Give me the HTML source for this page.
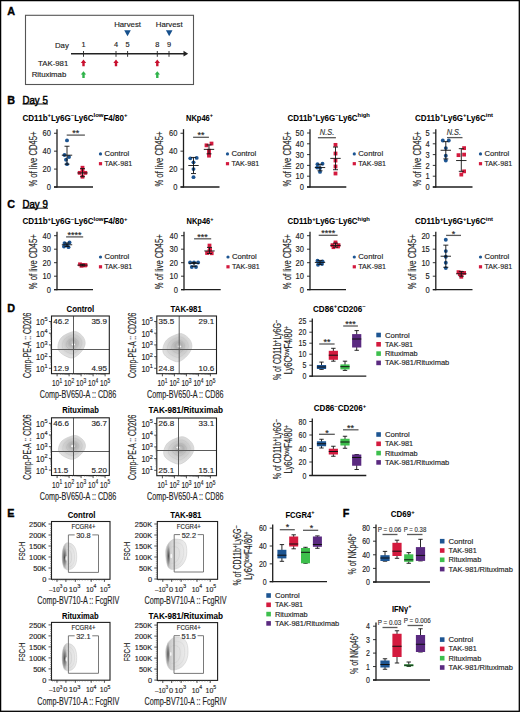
<!DOCTYPE html>
<html><head><meta charset="utf-8"><style>
html,body{margin:0;padding:0;background:#fff;}
svg{display:block;font-family:"Liberation Sans", sans-serif;}
</style></head><body>
<svg width="520" height="712" viewBox="0 0 520 712" font-family='"Liberation Sans", sans-serif' fill="#1e1e1e">
<defs><radialGradient id="g1" cx="0.52" cy="0.45" r="0.5" fx="0.55" fy="0.42"><stop offset="0" stop-color="#c4c4c4" stop-opacity="1"/><stop offset="0.22" stop-color="#b0b0b0" stop-opacity="1"/><stop offset="0.45" stop-color="#c6c6c6" stop-opacity="1"/><stop offset="0.8" stop-color="#d8d8d8" stop-opacity="1"/><stop offset="1" stop-color="#e0e0e0" stop-opacity="1"/></radialGradient><radialGradient id="g2" cx="0.52" cy="0.45" r="0.5" fx="0.55" fy="0.42"><stop offset="0" stop-color="#c4c4c4" stop-opacity="1"/><stop offset="0.22" stop-color="#b0b0b0" stop-opacity="1"/><stop offset="0.45" stop-color="#c6c6c6" stop-opacity="1"/><stop offset="0.8" stop-color="#d8d8d8" stop-opacity="1"/><stop offset="1" stop-color="#e0e0e0" stop-opacity="1"/></radialGradient><radialGradient id="g3" cx="0.52" cy="0.45" r="0.5" fx="0.55" fy="0.42"><stop offset="0" stop-color="#c4c4c4" stop-opacity="1"/><stop offset="0.22" stop-color="#b0b0b0" stop-opacity="1"/><stop offset="0.45" stop-color="#c6c6c6" stop-opacity="1"/><stop offset="0.8" stop-color="#d8d8d8" stop-opacity="1"/><stop offset="1" stop-color="#e0e0e0" stop-opacity="1"/></radialGradient><radialGradient id="g4" cx="0.52" cy="0.45" r="0.5" fx="0.55" fy="0.42"><stop offset="0" stop-color="#c4c4c4" stop-opacity="1"/><stop offset="0.22" stop-color="#b0b0b0" stop-opacity="1"/><stop offset="0.45" stop-color="#c6c6c6" stop-opacity="1"/><stop offset="0.8" stop-color="#d8d8d8" stop-opacity="1"/><stop offset="1" stop-color="#e0e0e0" stop-opacity="1"/></radialGradient><linearGradient id="lg1" x1="0" y1="0" x2="1" y2="0"><stop offset="0" stop-color="#9a9a9a" stop-opacity="1"/><stop offset="0.35" stop-color="#dadada" stop-opacity="1"/><stop offset="1" stop-color="#eeeeee" stop-opacity="1"/></linearGradient><radialGradient id="g5" cx="0.5" cy="0.5" r="0.5"><stop offset="0" stop-color="#4c4c4c" stop-opacity="1"/><stop offset="0.55" stop-color="#8a8a8a" stop-opacity="0.8"/><stop offset="1" stop-color="#b8b8b8" stop-opacity="0"/></radialGradient><linearGradient id="lg2" x1="0" y1="0" x2="1" y2="0"><stop offset="0" stop-color="#b8b8b8" stop-opacity="1"/><stop offset="0.35" stop-color="#dadada" stop-opacity="1"/><stop offset="1" stop-color="#eeeeee" stop-opacity="1"/></linearGradient><radialGradient id="g6" cx="0.5" cy="0.5" r="0.5"><stop offset="0" stop-color="#4c4c4c" stop-opacity="1"/><stop offset="0.55" stop-color="#8a8a8a" stop-opacity="0.8"/><stop offset="1" stop-color="#b8b8b8" stop-opacity="0"/></radialGradient><linearGradient id="lg3" x1="0" y1="0" x2="1" y2="0"><stop offset="0" stop-color="#9a9a9a" stop-opacity="1"/><stop offset="0.35" stop-color="#dadada" stop-opacity="1"/><stop offset="1" stop-color="#eeeeee" stop-opacity="1"/></linearGradient><radialGradient id="g7" cx="0.5" cy="0.5" r="0.5"><stop offset="0" stop-color="#4c4c4c" stop-opacity="1"/><stop offset="0.55" stop-color="#8a8a8a" stop-opacity="0.8"/><stop offset="1" stop-color="#b8b8b8" stop-opacity="0"/></radialGradient><linearGradient id="lg4" x1="0" y1="0" x2="1" y2="0"><stop offset="0" stop-color="#b8b8b8" stop-opacity="1"/><stop offset="0.35" stop-color="#dadada" stop-opacity="1"/><stop offset="1" stop-color="#eeeeee" stop-opacity="1"/></linearGradient><radialGradient id="g8" cx="0.5" cy="0.5" r="0.5"><stop offset="0" stop-color="#4c4c4c" stop-opacity="1"/><stop offset="0.55" stop-color="#8a8a8a" stop-opacity="0.8"/><stop offset="1" stop-color="#b8b8b8" stop-opacity="0"/></radialGradient></defs>
<rect width="520" height="712" fill="#fff"/>
<rect x="0.60" y="0.60" width="518.70" height="710.70" fill="none" stroke="#000" stroke-width="1.3"/>
<text x="7.20" y="14.79" font-size="10.8" font-weight="bold" fill="#000" stroke="#000" stroke-width="0.35">A</text>
<rect x="25.50" y="15.30" width="168.00" height="69.20" fill="none" stroke="#555" stroke-width="1.1"/>
<text x="127.60" y="26.81" font-size="7.8" text-anchor="middle" stroke="#1e1e1e" stroke-width="0.15">Harvest</text>
<text x="169.20" y="26.81" font-size="7.8" text-anchor="middle" stroke="#1e1e1e" stroke-width="0.15">Harvest</text>
<path d="M124.20 30.2 L130.80 30.2 L127.50 36.2 Z" fill="#16508c"/>
<path d="M165.90 30.2 L172.50 30.2 L169.20 36.2 Z" fill="#16508c"/>
<text x="68.80" y="47.81" font-size="7.8" text-anchor="end" stroke="#1e1e1e" stroke-width="0.15">Day</text>
<text x="83.50" y="47.36" font-size="7.4" text-anchor="middle" stroke="#1e1e1e" stroke-width="0.15">1</text>
<line x1="83.50" y1="51.00" x2="83.50" y2="56.80" stroke="#222" stroke-width="0.9"/>
<text x="116.00" y="47.36" font-size="7.4" text-anchor="middle" stroke="#1e1e1e" stroke-width="0.15">4</text>
<line x1="116.00" y1="51.00" x2="116.00" y2="56.80" stroke="#222" stroke-width="0.9"/>
<text x="127.60" y="47.36" font-size="7.4" text-anchor="middle" stroke="#1e1e1e" stroke-width="0.15">5</text>
<line x1="127.60" y1="51.00" x2="127.60" y2="56.80" stroke="#222" stroke-width="0.9"/>
<text x="157.30" y="47.36" font-size="7.4" text-anchor="middle" stroke="#1e1e1e" stroke-width="0.15">8</text>
<line x1="157.30" y1="51.00" x2="157.30" y2="56.80" stroke="#222" stroke-width="0.9"/>
<text x="169.00" y="47.36" font-size="7.4" text-anchor="middle" stroke="#1e1e1e" stroke-width="0.15">9</text>
<line x1="169.00" y1="51.00" x2="169.00" y2="56.80" stroke="#222" stroke-width="0.9"/>
<line x1="71.00" y1="53.70" x2="185.00" y2="53.70" stroke="#222" stroke-width="1.5"/>
<path d="M183.5 50.8 L188.2 53.7 L183.5 56.6 Z" fill="#222"/>
<text x="68.30" y="65.61" font-size="7.8" text-anchor="end" stroke="#1e1e1e" stroke-width="0.15">TAK-981</text>
<text x="66.30" y="77.41" font-size="7.8" text-anchor="end" stroke="#1e1e1e" stroke-width="0.15">Rituximab</text>
<path d="M83.50 59.60 L86.20 62.90 L84.70 62.90 L84.70 66.20 L82.30 66.20 L82.30 62.90 L80.80 62.90 Z" fill="#c8102e"/>
<path d="M116.00 59.60 L118.70 62.90 L117.20 62.90 L117.20 66.20 L114.80 66.20 L114.80 62.90 L113.30 62.90 Z" fill="#c8102e"/>
<path d="M157.30 59.60 L160.00 62.90 L158.50 62.90 L158.50 66.20 L156.10 66.20 L156.10 62.90 L154.60 62.90 Z" fill="#c8102e"/>
<path d="M83.50 71.30 L86.20 74.60 L84.70 74.60 L84.70 77.90 L82.30 77.90 L82.30 74.60 L80.80 74.60 Z" fill="#2fb34a"/>
<path d="M157.30 71.30 L160.00 74.60 L158.50 74.60 L158.50 77.90 L156.10 77.90 L156.10 74.60 L154.60 74.60 Z" fill="#2fb34a"/>
<text x="7.20" y="103.69" font-size="10.8" font-weight="bold" fill="#000" stroke="#000" stroke-width="0.35">B</text>
<text x="22.50" y="103.77" font-size="10.2" fill="#000" textLength="25.3" lengthAdjust="spacingAndGlyphs" stroke="#000" stroke-width="0.45">Day 5</text>
<line x1="22.50" y1="104.00" x2="48.00" y2="104.00" stroke="#000" stroke-width="0.9"/>
<text x="7.20" y="207.89" font-size="10.8" font-weight="bold" fill="#000" stroke="#000" stroke-width="0.35">C</text>
<text x="22.50" y="207.97" font-size="10.2" fill="#000" textLength="25.3" lengthAdjust="spacingAndGlyphs" stroke="#000" stroke-width="0.45">Day 9</text>
<line x1="22.50" y1="208.20" x2="48.00" y2="208.20" stroke="#000" stroke-width="0.9"/>
<text x="7.20" y="311.59" font-size="10.8" font-weight="bold" fill="#000" stroke="#000" stroke-width="0.35">D</text>
<text x="7.20" y="517.09" font-size="10.8" font-weight="bold" fill="#000" stroke="#000" stroke-width="0.35">E</text>
<text x="342.80" y="517.09" font-size="10.8" font-weight="bold" fill="#000" stroke="#000" stroke-width="0.35">F</text>
<line x1="57.00" y1="129.20" x2="57.00" y2="187.60" stroke="#1e1e1e" stroke-width="1.3"/>
<line x1="54.00" y1="187.00" x2="93.00" y2="187.00" stroke="#1e1e1e" stroke-width="1.3"/>
<line x1="54.00" y1="187.00" x2="57.00" y2="187.00" stroke="#1e1e1e" stroke-width="0.9"/>
<text x="51.00" y="190.13" font-size="8.7" text-anchor="end" textLength="4.2" lengthAdjust="spacingAndGlyphs" stroke="#1e1e1e" stroke-width="0.15">0</text>
<line x1="54.00" y1="169.08" x2="57.00" y2="169.08" stroke="#1e1e1e" stroke-width="0.9"/>
<text x="51.00" y="172.22" font-size="8.7" text-anchor="end" textLength="8.4" lengthAdjust="spacingAndGlyphs" stroke="#1e1e1e" stroke-width="0.15">20</text>
<line x1="54.00" y1="151.17" x2="57.00" y2="151.17" stroke="#1e1e1e" stroke-width="0.9"/>
<text x="51.00" y="154.30" font-size="8.7" text-anchor="end" textLength="8.4" lengthAdjust="spacingAndGlyphs" stroke="#1e1e1e" stroke-width="0.15">40</text>
<line x1="54.00" y1="133.25" x2="57.00" y2="133.25" stroke="#1e1e1e" stroke-width="0.9"/>
<text x="51.00" y="136.38" font-size="8.7" text-anchor="end" textLength="8.4" lengthAdjust="spacingAndGlyphs" stroke="#1e1e1e" stroke-width="0.15">60</text>
<text x="33.80" y="162.77" font-size="10.2" text-anchor="middle" textLength="55" lengthAdjust="spacingAndGlyphs" transform="rotate(-90 33.80 159.10)" stroke="#1e1e1e" stroke-width="0.15">% of live CD45+</text>
<text x="75.00" y="120.99" font-size="8.3" text-anchor="middle" font-weight="bold" fill="#000" textLength="105" lengthAdjust="spacingAndGlyphs" stroke="#000" stroke-width="0.05">CD11b<tspan dy="-3.65" font-size="6.14">+</tspan><tspan dy="3.65">Ly6G</tspan><tspan dy="-3.65" font-size="6.14">–</tspan><tspan dy="3.65">Ly6C</tspan><tspan dy="-3.65" font-size="6.14">low</tspan><tspan dy="3.65">F4/80</tspan><tspan dy="-3.65" font-size="6.14">+</tspan></text>
<circle cx="67.00" cy="140.42" r="1.95" fill="#1d5592"/>
<circle cx="64.50" cy="155.02" r="1.95" fill="#1d5592"/>
<circle cx="69.00" cy="156.99" r="1.95" fill="#1d5592"/>
<circle cx="66.00" cy="159.68" r="1.95" fill="#1d5592"/>
<circle cx="67.00" cy="164.16" r="1.95" fill="#1d5592"/>
<line x1="67.00" y1="146.24" x2="67.00" y2="164.16" stroke="#111" stroke-width="0.9"/>
<line x1="61.80" y1="155.20" x2="72.20" y2="155.20" stroke="#111" stroke-width="0.9"/>
<line x1="64.50" y1="146.24" x2="69.50" y2="146.24" stroke="#111" stroke-width="0.9"/>
<line x1="64.50" y1="164.16" x2="69.50" y2="164.16" stroke="#111" stroke-width="0.9"/>
<rect x="80.60" y="165.84" width="3.80" height="3.80" fill="#d31a3e"/>
<rect x="77.80" y="170.95" width="3.80" height="3.80" fill="#d31a3e"/>
<rect x="83.40" y="170.95" width="3.80" height="3.80" fill="#d31a3e"/>
<rect x="80.60" y="168.97" width="3.80" height="3.80" fill="#d31a3e"/>
<rect x="80.60" y="174.80" width="3.80" height="3.80" fill="#d31a3e"/>
<line x1="82.50" y1="168.64" x2="82.50" y2="176.70" stroke="#111" stroke-width="0.9"/>
<line x1="77.30" y1="172.94" x2="87.70" y2="172.94" stroke="#111" stroke-width="0.9"/>
<line x1="80.00" y1="168.64" x2="85.00" y2="168.64" stroke="#111" stroke-width="0.9"/>
<line x1="80.00" y1="176.70" x2="85.00" y2="176.70" stroke="#111" stroke-width="0.9"/>
<line x1="66.70" y1="135.10" x2="84.90" y2="135.10" stroke="#5a5a5a" stroke-width="1.3"/>
<text x="75.80" y="136.02" font-size="9.0" text-anchor="middle" fill="#222" stroke="#222" stroke-width="0.15">**</text>
<circle cx="100.50" cy="153.90" r="1.6" fill="#1d5592"/>
<rect x="98.90" y="162.10" width="3.20" height="3.20" fill="#d31a3e"/>
<text x="104.50" y="156.28" font-size="8.0" textLength="24.8" lengthAdjust="spacingAndGlyphs" stroke="#1e1e1e" stroke-width="0.15">Control</text>
<text x="104.50" y="166.08" font-size="8.0" textLength="27.6" lengthAdjust="spacingAndGlyphs" stroke="#1e1e1e" stroke-width="0.15">TAK-981</text>
<line x1="183.50" y1="129.20" x2="183.50" y2="187.60" stroke="#1e1e1e" stroke-width="1.3"/>
<line x1="180.50" y1="187.00" x2="219.50" y2="187.00" stroke="#1e1e1e" stroke-width="1.3"/>
<line x1="180.50" y1="187.00" x2="183.50" y2="187.00" stroke="#1e1e1e" stroke-width="0.9"/>
<text x="177.50" y="190.13" font-size="8.7" text-anchor="end" textLength="4.2" lengthAdjust="spacingAndGlyphs" stroke="#1e1e1e" stroke-width="0.15">0</text>
<line x1="180.50" y1="169.08" x2="183.50" y2="169.08" stroke="#1e1e1e" stroke-width="0.9"/>
<text x="177.50" y="172.22" font-size="8.7" text-anchor="end" textLength="8.4" lengthAdjust="spacingAndGlyphs" stroke="#1e1e1e" stroke-width="0.15">20</text>
<line x1="180.50" y1="151.17" x2="183.50" y2="151.17" stroke="#1e1e1e" stroke-width="0.9"/>
<text x="177.50" y="154.30" font-size="8.7" text-anchor="end" textLength="8.4" lengthAdjust="spacingAndGlyphs" stroke="#1e1e1e" stroke-width="0.15">40</text>
<line x1="180.50" y1="133.25" x2="183.50" y2="133.25" stroke="#1e1e1e" stroke-width="0.9"/>
<text x="177.50" y="136.38" font-size="8.7" text-anchor="end" textLength="8.4" lengthAdjust="spacingAndGlyphs" stroke="#1e1e1e" stroke-width="0.15">60</text>
<text x="159.50" y="162.77" font-size="10.2" text-anchor="middle" textLength="55" lengthAdjust="spacingAndGlyphs" transform="rotate(-90 159.50 159.10)" stroke="#1e1e1e" stroke-width="0.15">% of live CD45+</text>
<text x="199.50" y="120.99" font-size="8.3" text-anchor="middle" font-weight="bold" fill="#000" textLength="27" lengthAdjust="spacingAndGlyphs" stroke="#000" stroke-width="0.05">NKp46<tspan dy="-3.65" font-size="6.14">+</tspan></text>
<circle cx="190.30" cy="158.33" r="1.95" fill="#1d5592"/>
<circle cx="196.70" cy="157.89" r="1.95" fill="#1d5592"/>
<circle cx="193.50" cy="162.36" r="1.95" fill="#1d5592"/>
<circle cx="193.50" cy="169.08" r="1.95" fill="#1d5592"/>
<circle cx="193.50" cy="177.15" r="1.95" fill="#1d5592"/>
<line x1="193.50" y1="157.44" x2="193.50" y2="173.56" stroke="#111" stroke-width="0.9"/>
<line x1="188.30" y1="165.50" x2="198.70" y2="165.50" stroke="#111" stroke-width="0.9"/>
<line x1="191.00" y1="157.44" x2="196.00" y2="157.44" stroke="#111" stroke-width="0.9"/>
<line x1="191.00" y1="173.56" x2="196.00" y2="173.56" stroke="#111" stroke-width="0.9"/>
<rect x="209.60" y="141.65" width="3.80" height="3.80" fill="#d31a3e"/>
<rect x="204.60" y="143.44" width="3.80" height="3.80" fill="#d31a3e"/>
<rect x="207.10" y="148.82" width="3.80" height="3.80" fill="#d31a3e"/>
<rect x="207.10" y="151.95" width="3.80" height="3.80" fill="#d31a3e"/>
<rect x="207.10" y="153.75" width="3.80" height="3.80" fill="#d31a3e"/>
<line x1="209.00" y1="144.90" x2="209.00" y2="153.85" stroke="#111" stroke-width="0.9"/>
<line x1="203.80" y1="149.38" x2="214.20" y2="149.38" stroke="#111" stroke-width="0.9"/>
<line x1="206.50" y1="144.90" x2="211.50" y2="144.90" stroke="#111" stroke-width="0.9"/>
<line x1="206.50" y1="153.85" x2="211.50" y2="153.85" stroke="#111" stroke-width="0.9"/>
<line x1="193.10" y1="137.30" x2="208.90" y2="137.30" stroke="#5a5a5a" stroke-width="1.3"/>
<text x="201.00" y="138.12" font-size="9.0" text-anchor="middle" fill="#222" stroke="#222" stroke-width="0.15">**</text>
<circle cx="227.50" cy="153.90" r="1.6" fill="#1d5592"/>
<rect x="225.90" y="162.10" width="3.20" height="3.20" fill="#d31a3e"/>
<text x="231.50" y="156.28" font-size="8.0" textLength="24.8" lengthAdjust="spacingAndGlyphs" stroke="#1e1e1e" stroke-width="0.15">Control</text>
<text x="231.50" y="166.08" font-size="8.0" textLength="27.6" lengthAdjust="spacingAndGlyphs" stroke="#1e1e1e" stroke-width="0.15">TAK-981</text>
<line x1="310.00" y1="129.20" x2="310.00" y2="187.60" stroke="#1e1e1e" stroke-width="1.3"/>
<line x1="307.00" y1="187.00" x2="346.30" y2="187.00" stroke="#1e1e1e" stroke-width="1.3"/>
<line x1="307.00" y1="187.00" x2="310.00" y2="187.00" stroke="#1e1e1e" stroke-width="0.9"/>
<text x="304.00" y="190.13" font-size="8.7" text-anchor="end" textLength="4.2" lengthAdjust="spacingAndGlyphs" stroke="#1e1e1e" stroke-width="0.15">0</text>
<line x1="307.00" y1="176.20" x2="310.00" y2="176.20" stroke="#1e1e1e" stroke-width="0.9"/>
<text x="304.00" y="179.33" font-size="8.7" text-anchor="end" textLength="8.4" lengthAdjust="spacingAndGlyphs" stroke="#1e1e1e" stroke-width="0.15">10</text>
<line x1="307.00" y1="165.40" x2="310.00" y2="165.40" stroke="#1e1e1e" stroke-width="0.9"/>
<text x="304.00" y="168.53" font-size="8.7" text-anchor="end" textLength="8.4" lengthAdjust="spacingAndGlyphs" stroke="#1e1e1e" stroke-width="0.15">20</text>
<line x1="307.00" y1="154.60" x2="310.00" y2="154.60" stroke="#1e1e1e" stroke-width="0.9"/>
<text x="304.00" y="157.73" font-size="8.7" text-anchor="end" textLength="8.4" lengthAdjust="spacingAndGlyphs" stroke="#1e1e1e" stroke-width="0.15">30</text>
<line x1="307.00" y1="143.80" x2="310.00" y2="143.80" stroke="#1e1e1e" stroke-width="0.9"/>
<text x="304.00" y="146.93" font-size="8.7" text-anchor="end" textLength="8.4" lengthAdjust="spacingAndGlyphs" stroke="#1e1e1e" stroke-width="0.15">40</text>
<line x1="307.00" y1="133.00" x2="310.00" y2="133.00" stroke="#1e1e1e" stroke-width="0.9"/>
<text x="304.00" y="136.13" font-size="8.7" text-anchor="end" textLength="8.4" lengthAdjust="spacingAndGlyphs" stroke="#1e1e1e" stroke-width="0.15">50</text>
<text x="287.00" y="162.77" font-size="10.2" text-anchor="middle" textLength="55" lengthAdjust="spacingAndGlyphs" transform="rotate(-90 287.00 159.10)" stroke="#1e1e1e" stroke-width="0.15">% of live CD45+</text>
<text x="328.70" y="120.99" font-size="8.3" text-anchor="middle" font-weight="bold" fill="#000" textLength="82.5" lengthAdjust="spacingAndGlyphs" stroke="#000" stroke-width="0.05">CD11b<tspan dy="-3.65" font-size="6.14">+</tspan><tspan dy="3.65">Ly6G</tspan><tspan dy="-3.65" font-size="6.14">–</tspan><tspan dy="3.65">Ly6C</tspan><tspan dy="-3.65" font-size="6.14">high</tspan></text>
<circle cx="317.50" cy="164.32" r="1.95" fill="#1d5592"/>
<circle cx="322.50" cy="163.78" r="1.95" fill="#1d5592"/>
<circle cx="320.00" cy="168.10" r="1.95" fill="#1d5592"/>
<circle cx="317.20" cy="167.56" r="1.95" fill="#1d5592"/>
<circle cx="320.00" cy="171.88" r="1.95" fill="#1d5592"/>
<line x1="320.00" y1="164.32" x2="320.00" y2="170.80" stroke="#111" stroke-width="0.9"/>
<line x1="314.80" y1="167.56" x2="325.20" y2="167.56" stroke="#111" stroke-width="0.9"/>
<line x1="317.50" y1="164.32" x2="322.50" y2="164.32" stroke="#111" stroke-width="0.9"/>
<line x1="317.50" y1="170.80" x2="322.50" y2="170.80" stroke="#111" stroke-width="0.9"/>
<rect x="333.60" y="142.98" width="3.80" height="3.80" fill="#d31a3e"/>
<rect x="333.60" y="151.62" width="3.80" height="3.80" fill="#d31a3e"/>
<rect x="333.60" y="158.64" width="3.80" height="3.80" fill="#d31a3e"/>
<rect x="333.60" y="164.58" width="3.80" height="3.80" fill="#d31a3e"/>
<rect x="333.60" y="171.60" width="3.80" height="3.80" fill="#d31a3e"/>
<line x1="335.50" y1="147.04" x2="335.50" y2="169.72" stroke="#111" stroke-width="0.9"/>
<line x1="330.30" y1="158.38" x2="340.70" y2="158.38" stroke="#111" stroke-width="0.9"/>
<line x1="333.00" y1="147.04" x2="338.00" y2="147.04" stroke="#111" stroke-width="0.9"/>
<line x1="333.00" y1="169.72" x2="338.00" y2="169.72" stroke="#111" stroke-width="0.9"/>
<line x1="317.90" y1="137.70" x2="335.90" y2="137.70" stroke="#5a5a5a" stroke-width="1.3"/>
<text x="327.00" y="134.92" font-size="8.4" text-anchor="middle" font-style="italic" fill="#333" textLength="14.4" lengthAdjust="spacingAndGlyphs" stroke="#333" stroke-width="0.15">N.S.</text>
<circle cx="354.30" cy="153.90" r="1.6" fill="#1d5592"/>
<rect x="352.70" y="162.10" width="3.20" height="3.20" fill="#d31a3e"/>
<text x="358.30" y="156.28" font-size="8.0" textLength="24.8" lengthAdjust="spacingAndGlyphs" stroke="#1e1e1e" stroke-width="0.15">Control</text>
<text x="358.30" y="166.08" font-size="8.0" textLength="27.6" lengthAdjust="spacingAndGlyphs" stroke="#1e1e1e" stroke-width="0.15">TAK-981</text>
<line x1="435.80" y1="129.20" x2="435.80" y2="187.60" stroke="#1e1e1e" stroke-width="1.3"/>
<line x1="432.80" y1="187.00" x2="472.50" y2="187.00" stroke="#1e1e1e" stroke-width="1.3"/>
<line x1="432.80" y1="187.00" x2="435.80" y2="187.00" stroke="#1e1e1e" stroke-width="0.9"/>
<text x="429.80" y="190.13" font-size="8.7" text-anchor="end" textLength="4.2" lengthAdjust="spacingAndGlyphs" stroke="#1e1e1e" stroke-width="0.15">0</text>
<line x1="432.80" y1="176.20" x2="435.80" y2="176.20" stroke="#1e1e1e" stroke-width="0.9"/>
<text x="429.80" y="179.33" font-size="8.7" text-anchor="end" textLength="4.2" lengthAdjust="spacingAndGlyphs" stroke="#1e1e1e" stroke-width="0.15">1</text>
<line x1="432.80" y1="165.40" x2="435.80" y2="165.40" stroke="#1e1e1e" stroke-width="0.9"/>
<text x="429.80" y="168.53" font-size="8.7" text-anchor="end" textLength="4.2" lengthAdjust="spacingAndGlyphs" stroke="#1e1e1e" stroke-width="0.15">2</text>
<line x1="432.80" y1="154.60" x2="435.80" y2="154.60" stroke="#1e1e1e" stroke-width="0.9"/>
<text x="429.80" y="157.73" font-size="8.7" text-anchor="end" textLength="4.2" lengthAdjust="spacingAndGlyphs" stroke="#1e1e1e" stroke-width="0.15">3</text>
<line x1="432.80" y1="143.80" x2="435.80" y2="143.80" stroke="#1e1e1e" stroke-width="0.9"/>
<text x="429.80" y="146.93" font-size="8.7" text-anchor="end" textLength="4.2" lengthAdjust="spacingAndGlyphs" stroke="#1e1e1e" stroke-width="0.15">4</text>
<line x1="432.80" y1="133.00" x2="435.80" y2="133.00" stroke="#1e1e1e" stroke-width="0.9"/>
<text x="429.80" y="136.13" font-size="8.7" text-anchor="end" textLength="4.2" lengthAdjust="spacingAndGlyphs" stroke="#1e1e1e" stroke-width="0.15">5</text>
<text x="417.00" y="162.77" font-size="10.2" text-anchor="middle" textLength="55" lengthAdjust="spacingAndGlyphs" transform="rotate(-90 417.00 159.10)" stroke="#1e1e1e" stroke-width="0.15">% of live CD45+</text>
<text x="454.00" y="120.99" font-size="8.3" text-anchor="middle" font-weight="bold" fill="#000" textLength="78" lengthAdjust="spacingAndGlyphs" stroke="#000" stroke-width="0.05">CD11b<tspan dy="-3.65" font-size="6.14">+</tspan><tspan dy="3.65">Ly6G</tspan><tspan dy="-3.65" font-size="6.14">+</tspan><tspan dy="3.65">Ly6C</tspan><tspan dy="-3.65" font-size="6.14">int</tspan></text>
<circle cx="442.80" cy="140.56" r="1.95" fill="#1d5592"/>
<circle cx="448.80" cy="140.56" r="1.95" fill="#1d5592"/>
<circle cx="445.80" cy="148.12" r="1.95" fill="#1d5592"/>
<circle cx="445.80" cy="155.68" r="1.95" fill="#1d5592"/>
<circle cx="445.80" cy="160.54" r="1.95" fill="#1d5592"/>
<line x1="445.80" y1="141.64" x2="445.80" y2="158.92" stroke="#111" stroke-width="0.9"/>
<line x1="440.60" y1="150.28" x2="451.00" y2="150.28" stroke="#111" stroke-width="0.9"/>
<line x1="443.30" y1="141.64" x2="448.30" y2="141.64" stroke="#111" stroke-width="0.9"/>
<line x1="443.30" y1="158.92" x2="448.30" y2="158.92" stroke="#111" stroke-width="0.9"/>
<rect x="462.20" y="146.22" width="3.80" height="3.80" fill="#d31a3e"/>
<rect x="456.60" y="153.24" width="3.80" height="3.80" fill="#d31a3e"/>
<rect x="462.20" y="152.70" width="3.80" height="3.80" fill="#d31a3e"/>
<rect x="462.20" y="169.44" width="3.80" height="3.80" fill="#d31a3e"/>
<rect x="459.40" y="172.68" width="3.80" height="3.80" fill="#d31a3e"/>
<line x1="461.30" y1="148.66" x2="461.30" y2="171.34" stroke="#111" stroke-width="0.9"/>
<line x1="456.10" y1="160.54" x2="466.50" y2="160.54" stroke="#111" stroke-width="0.9"/>
<line x1="458.80" y1="148.66" x2="463.80" y2="148.66" stroke="#111" stroke-width="0.9"/>
<line x1="458.80" y1="171.34" x2="463.80" y2="171.34" stroke="#111" stroke-width="0.9"/>
<line x1="447.00" y1="137.60" x2="462.50" y2="137.60" stroke="#5a5a5a" stroke-width="1.3"/>
<text x="453.90" y="134.92" font-size="8.4" text-anchor="middle" font-style="italic" fill="#333" textLength="14.4" lengthAdjust="spacingAndGlyphs" stroke="#333" stroke-width="0.15">N.S.</text>
<circle cx="480.50" cy="153.90" r="1.6" fill="#1d5592"/>
<rect x="478.90" y="162.10" width="3.20" height="3.20" fill="#d31a3e"/>
<text x="484.50" y="156.28" font-size="8.0" textLength="24.8" lengthAdjust="spacingAndGlyphs" stroke="#1e1e1e" stroke-width="0.15">Control</text>
<text x="484.50" y="166.08" font-size="8.0" textLength="27.6" lengthAdjust="spacingAndGlyphs" stroke="#1e1e1e" stroke-width="0.15">TAK-981</text>
<line x1="57.00" y1="231.80" x2="57.00" y2="290.30" stroke="#1e1e1e" stroke-width="1.3"/>
<line x1="54.00" y1="289.70" x2="93.00" y2="289.70" stroke="#1e1e1e" stroke-width="1.3"/>
<line x1="54.00" y1="289.70" x2="57.00" y2="289.70" stroke="#1e1e1e" stroke-width="0.9"/>
<text x="51.00" y="292.83" font-size="8.7" text-anchor="end" textLength="4.2" lengthAdjust="spacingAndGlyphs" stroke="#1e1e1e" stroke-width="0.15">0</text>
<line x1="54.00" y1="276.20" x2="57.00" y2="276.20" stroke="#1e1e1e" stroke-width="0.9"/>
<text x="51.00" y="279.33" font-size="8.7" text-anchor="end" textLength="8.4" lengthAdjust="spacingAndGlyphs" stroke="#1e1e1e" stroke-width="0.15">10</text>
<line x1="54.00" y1="262.70" x2="57.00" y2="262.70" stroke="#1e1e1e" stroke-width="0.9"/>
<text x="51.00" y="265.83" font-size="8.7" text-anchor="end" textLength="8.4" lengthAdjust="spacingAndGlyphs" stroke="#1e1e1e" stroke-width="0.15">20</text>
<line x1="54.00" y1="249.20" x2="57.00" y2="249.20" stroke="#1e1e1e" stroke-width="0.9"/>
<text x="51.00" y="252.33" font-size="8.7" text-anchor="end" textLength="8.4" lengthAdjust="spacingAndGlyphs" stroke="#1e1e1e" stroke-width="0.15">30</text>
<line x1="54.00" y1="235.70" x2="57.00" y2="235.70" stroke="#1e1e1e" stroke-width="0.9"/>
<text x="51.00" y="238.83" font-size="8.7" text-anchor="end" textLength="8.4" lengthAdjust="spacingAndGlyphs" stroke="#1e1e1e" stroke-width="0.15">40</text>
<text x="33.80" y="265.42" font-size="10.2" text-anchor="middle" textLength="55" lengthAdjust="spacingAndGlyphs" transform="rotate(-90 33.80 261.75)" stroke="#1e1e1e" stroke-width="0.15">% of live CD45+</text>
<text x="75.00" y="224.19" font-size="8.3" text-anchor="middle" font-weight="bold" fill="#000" textLength="105" lengthAdjust="spacingAndGlyphs" stroke="#000" stroke-width="0.05">CD11b<tspan dy="-3.65" font-size="6.14">+</tspan><tspan dy="3.65">Ly6G</tspan><tspan dy="-3.65" font-size="6.14">–</tspan><tspan dy="3.65">Ly6C</tspan><tspan dy="-3.65" font-size="6.14">low</tspan><tspan dy="3.65">F4/80</tspan><tspan dy="-3.65" font-size="6.14">+</tspan></text>
<circle cx="64.50" cy="243.12" r="1.95" fill="#1d5592"/>
<circle cx="69.50" cy="242.45" r="1.95" fill="#1d5592"/>
<circle cx="67.00" cy="245.15" r="1.95" fill="#1d5592"/>
<circle cx="64.00" cy="246.50" r="1.95" fill="#1d5592"/>
<circle cx="68.50" cy="247.17" r="1.95" fill="#1d5592"/>
<line x1="67.00" y1="242.99" x2="67.00" y2="246.50" stroke="#111" stroke-width="0.9"/>
<line x1="61.80" y1="244.75" x2="72.20" y2="244.75" stroke="#111" stroke-width="0.9"/>
<line x1="64.50" y1="242.99" x2="69.50" y2="242.99" stroke="#111" stroke-width="0.9"/>
<line x1="64.50" y1="246.50" x2="69.50" y2="246.50" stroke="#111" stroke-width="0.9"/>
<rect x="78.10" y="262.42" width="3.80" height="3.80" fill="#d31a3e"/>
<rect x="80.60" y="263.10" width="3.80" height="3.80" fill="#d31a3e"/>
<rect x="83.10" y="263.50" width="3.80" height="3.80" fill="#d31a3e"/>
<rect x="79.60" y="263.91" width="3.80" height="3.80" fill="#d31a3e"/>
<rect x="83.60" y="263.23" width="3.80" height="3.80" fill="#d31a3e"/>
<line x1="82.50" y1="264.32" x2="82.50" y2="265.94" stroke="#111" stroke-width="0.9"/>
<line x1="77.30" y1="265.13" x2="87.70" y2="265.13" stroke="#111" stroke-width="0.9"/>
<line x1="80.00" y1="264.32" x2="85.00" y2="264.32" stroke="#111" stroke-width="0.9"/>
<line x1="80.00" y1="265.94" x2="85.00" y2="265.94" stroke="#111" stroke-width="0.9"/>
<line x1="66.10" y1="236.90" x2="83.20" y2="236.90" stroke="#5a5a5a" stroke-width="1.3"/>
<text x="74.60" y="238.12" font-size="9.0" text-anchor="middle" fill="#222" stroke="#222" stroke-width="0.15">****</text>
<circle cx="100.50" cy="257.00" r="1.6" fill="#1d5592"/>
<rect x="98.90" y="265.20" width="3.20" height="3.20" fill="#d31a3e"/>
<text x="104.50" y="259.38" font-size="8.0" textLength="24.8" lengthAdjust="spacingAndGlyphs" stroke="#1e1e1e" stroke-width="0.15">Control</text>
<text x="104.50" y="269.18" font-size="8.0" textLength="27.6" lengthAdjust="spacingAndGlyphs" stroke="#1e1e1e" stroke-width="0.15">TAK-981</text>
<line x1="184.00" y1="231.80" x2="184.00" y2="290.30" stroke="#1e1e1e" stroke-width="1.3"/>
<line x1="181.00" y1="289.70" x2="220.70" y2="289.70" stroke="#1e1e1e" stroke-width="1.3"/>
<line x1="181.00" y1="289.70" x2="184.00" y2="289.70" stroke="#1e1e1e" stroke-width="0.9"/>
<text x="178.00" y="292.83" font-size="8.7" text-anchor="end" textLength="4.2" lengthAdjust="spacingAndGlyphs" stroke="#1e1e1e" stroke-width="0.15">0</text>
<line x1="181.00" y1="276.20" x2="184.00" y2="276.20" stroke="#1e1e1e" stroke-width="0.9"/>
<text x="178.00" y="279.33" font-size="8.7" text-anchor="end" textLength="8.4" lengthAdjust="spacingAndGlyphs" stroke="#1e1e1e" stroke-width="0.15">10</text>
<line x1="181.00" y1="262.70" x2="184.00" y2="262.70" stroke="#1e1e1e" stroke-width="0.9"/>
<text x="178.00" y="265.83" font-size="8.7" text-anchor="end" textLength="8.4" lengthAdjust="spacingAndGlyphs" stroke="#1e1e1e" stroke-width="0.15">20</text>
<line x1="181.00" y1="249.20" x2="184.00" y2="249.20" stroke="#1e1e1e" stroke-width="0.9"/>
<text x="178.00" y="252.33" font-size="8.7" text-anchor="end" textLength="8.4" lengthAdjust="spacingAndGlyphs" stroke="#1e1e1e" stroke-width="0.15">30</text>
<line x1="181.00" y1="235.70" x2="184.00" y2="235.70" stroke="#1e1e1e" stroke-width="0.9"/>
<text x="178.00" y="238.83" font-size="8.7" text-anchor="end" textLength="8.4" lengthAdjust="spacingAndGlyphs" stroke="#1e1e1e" stroke-width="0.15">40</text>
<text x="159.50" y="265.42" font-size="10.2" text-anchor="middle" textLength="55" lengthAdjust="spacingAndGlyphs" transform="rotate(-90 159.50 261.75)" stroke="#1e1e1e" stroke-width="0.15">% of live CD45+</text>
<text x="200.00" y="224.19" font-size="8.3" text-anchor="middle" font-weight="bold" fill="#000" textLength="27" lengthAdjust="spacingAndGlyphs" stroke="#000" stroke-width="0.05">NKp46<tspan dy="-3.65" font-size="6.14">+</tspan></text>
<circle cx="190.10" cy="262.43" r="1.95" fill="#1d5592"/>
<circle cx="194.00" cy="262.43" r="1.95" fill="#1d5592"/>
<circle cx="198.10" cy="262.43" r="1.95" fill="#1d5592"/>
<circle cx="191.80" cy="267.02" r="1.95" fill="#1d5592"/>
<circle cx="196.00" cy="267.02" r="1.95" fill="#1d5592"/>
<line x1="194.00" y1="262.43" x2="194.00" y2="266.34" stroke="#111" stroke-width="0.9"/>
<line x1="188.80" y1="263.38" x2="199.20" y2="263.38" stroke="#111" stroke-width="0.9"/>
<line x1="191.50" y1="262.43" x2="196.50" y2="262.43" stroke="#111" stroke-width="0.9"/>
<line x1="191.50" y1="266.34" x2="196.50" y2="266.34" stroke="#111" stroke-width="0.9"/>
<rect x="207.60" y="243.65" width="3.80" height="3.80" fill="#d31a3e"/>
<rect x="205.20" y="251.08" width="3.80" height="3.80" fill="#d31a3e"/>
<rect x="209.80" y="251.35" width="3.80" height="3.80" fill="#d31a3e"/>
<rect x="207.60" y="248.92" width="3.80" height="3.80" fill="#d31a3e"/>
<rect x="208.10" y="247.97" width="3.80" height="3.80" fill="#d31a3e"/>
<line x1="209.50" y1="247.44" x2="209.50" y2="253.52" stroke="#111" stroke-width="0.9"/>
<line x1="204.30" y1="250.95" x2="214.70" y2="250.95" stroke="#111" stroke-width="0.9"/>
<line x1="207.00" y1="247.44" x2="212.00" y2="247.44" stroke="#111" stroke-width="0.9"/>
<line x1="207.00" y1="253.52" x2="212.00" y2="253.52" stroke="#111" stroke-width="0.9"/>
<line x1="194.10" y1="238.80" x2="211.20" y2="238.80" stroke="#5a5a5a" stroke-width="1.3"/>
<text x="202.60" y="240.12" font-size="9.0" text-anchor="middle" fill="#222" stroke="#222" stroke-width="0.15">***</text>
<circle cx="228.00" cy="257.00" r="1.6" fill="#1d5592"/>
<rect x="226.40" y="265.20" width="3.20" height="3.20" fill="#d31a3e"/>
<text x="232.00" y="259.38" font-size="8.0" textLength="24.8" lengthAdjust="spacingAndGlyphs" stroke="#1e1e1e" stroke-width="0.15">Control</text>
<text x="232.00" y="269.18" font-size="8.0" textLength="27.6" lengthAdjust="spacingAndGlyphs" stroke="#1e1e1e" stroke-width="0.15">TAK-981</text>
<line x1="310.00" y1="231.80" x2="310.00" y2="290.30" stroke="#1e1e1e" stroke-width="1.3"/>
<line x1="307.00" y1="289.70" x2="346.00" y2="289.70" stroke="#1e1e1e" stroke-width="1.3"/>
<line x1="307.00" y1="289.70" x2="310.00" y2="289.70" stroke="#1e1e1e" stroke-width="0.9"/>
<text x="304.00" y="292.83" font-size="8.7" text-anchor="end" textLength="4.2" lengthAdjust="spacingAndGlyphs" stroke="#1e1e1e" stroke-width="0.15">0</text>
<line x1="307.00" y1="276.20" x2="310.00" y2="276.20" stroke="#1e1e1e" stroke-width="0.9"/>
<text x="304.00" y="279.33" font-size="8.7" text-anchor="end" textLength="8.4" lengthAdjust="spacingAndGlyphs" stroke="#1e1e1e" stroke-width="0.15">10</text>
<line x1="307.00" y1="262.70" x2="310.00" y2="262.70" stroke="#1e1e1e" stroke-width="0.9"/>
<text x="304.00" y="265.83" font-size="8.7" text-anchor="end" textLength="8.4" lengthAdjust="spacingAndGlyphs" stroke="#1e1e1e" stroke-width="0.15">20</text>
<line x1="307.00" y1="249.20" x2="310.00" y2="249.20" stroke="#1e1e1e" stroke-width="0.9"/>
<text x="304.00" y="252.33" font-size="8.7" text-anchor="end" textLength="8.4" lengthAdjust="spacingAndGlyphs" stroke="#1e1e1e" stroke-width="0.15">30</text>
<line x1="307.00" y1="235.70" x2="310.00" y2="235.70" stroke="#1e1e1e" stroke-width="0.9"/>
<text x="304.00" y="238.83" font-size="8.7" text-anchor="end" textLength="8.4" lengthAdjust="spacingAndGlyphs" stroke="#1e1e1e" stroke-width="0.15">40</text>
<text x="287.00" y="265.42" font-size="10.2" text-anchor="middle" textLength="55" lengthAdjust="spacingAndGlyphs" transform="rotate(-90 287.00 261.75)" stroke="#1e1e1e" stroke-width="0.15">% of live CD45+</text>
<text x="328.70" y="224.19" font-size="8.3" text-anchor="middle" font-weight="bold" fill="#000" textLength="82.5" lengthAdjust="spacingAndGlyphs" stroke="#000" stroke-width="0.05">CD11b<tspan dy="-3.65" font-size="6.14">+</tspan><tspan dy="3.65">Ly6G</tspan><tspan dy="-3.65" font-size="6.14">–</tspan><tspan dy="3.65">Ly6C</tspan><tspan dy="-3.65" font-size="6.14">high</tspan></text>
<circle cx="317.50" cy="260.68" r="1.95" fill="#1d5592"/>
<circle cx="322.50" cy="261.35" r="1.95" fill="#1d5592"/>
<circle cx="320.00" cy="262.70" r="1.95" fill="#1d5592"/>
<circle cx="318.00" cy="264.72" r="1.95" fill="#1d5592"/>
<circle cx="322.00" cy="264.05" r="1.95" fill="#1d5592"/>
<line x1="320.00" y1="260.40" x2="320.00" y2="264.45" stroke="#111" stroke-width="0.9"/>
<line x1="314.80" y1="262.43" x2="325.20" y2="262.43" stroke="#111" stroke-width="0.9"/>
<line x1="317.50" y1="260.40" x2="322.50" y2="260.40" stroke="#111" stroke-width="0.9"/>
<line x1="317.50" y1="264.45" x2="322.50" y2="264.45" stroke="#111" stroke-width="0.9"/>
<rect x="333.60" y="240.55" width="3.80" height="3.80" fill="#d31a3e"/>
<rect x="330.60" y="243.25" width="3.80" height="3.80" fill="#d31a3e"/>
<rect x="336.60" y="243.25" width="3.80" height="3.80" fill="#d31a3e"/>
<rect x="331.60" y="245.27" width="3.80" height="3.80" fill="#d31a3e"/>
<rect x="336.10" y="244.60" width="3.80" height="3.80" fill="#d31a3e"/>
<line x1="335.50" y1="243.12" x2="335.50" y2="247.17" stroke="#111" stroke-width="0.9"/>
<line x1="330.30" y1="245.42" x2="340.70" y2="245.42" stroke="#111" stroke-width="0.9"/>
<line x1="333.00" y1="243.12" x2="338.00" y2="243.12" stroke="#111" stroke-width="0.9"/>
<line x1="333.00" y1="247.17" x2="338.00" y2="247.17" stroke="#111" stroke-width="0.9"/>
<line x1="318.70" y1="235.30" x2="337.60" y2="235.30" stroke="#5a5a5a" stroke-width="1.3"/>
<text x="328.20" y="236.42" font-size="9.0" text-anchor="middle" fill="#222" stroke="#222" stroke-width="0.15">****</text>
<circle cx="354.30" cy="257.00" r="1.6" fill="#1d5592"/>
<rect x="352.70" y="265.20" width="3.20" height="3.20" fill="#d31a3e"/>
<text x="358.30" y="259.38" font-size="8.0" textLength="24.8" lengthAdjust="spacingAndGlyphs" stroke="#1e1e1e" stroke-width="0.15">Control</text>
<text x="358.30" y="269.18" font-size="8.0" textLength="27.6" lengthAdjust="spacingAndGlyphs" stroke="#1e1e1e" stroke-width="0.15">TAK-981</text>
<line x1="435.80" y1="231.80" x2="435.80" y2="290.30" stroke="#1e1e1e" stroke-width="1.3"/>
<line x1="432.80" y1="289.70" x2="472.50" y2="289.70" stroke="#1e1e1e" stroke-width="1.3"/>
<line x1="432.80" y1="289.70" x2="435.80" y2="289.70" stroke="#1e1e1e" stroke-width="0.9"/>
<text x="429.80" y="292.83" font-size="8.7" text-anchor="end" textLength="4.2" lengthAdjust="spacingAndGlyphs" stroke="#1e1e1e" stroke-width="0.15">0</text>
<line x1="432.80" y1="276.20" x2="435.80" y2="276.20" stroke="#1e1e1e" stroke-width="0.9"/>
<text x="429.80" y="279.33" font-size="8.7" text-anchor="end" textLength="4.2" lengthAdjust="spacingAndGlyphs" stroke="#1e1e1e" stroke-width="0.15">5</text>
<line x1="432.80" y1="262.70" x2="435.80" y2="262.70" stroke="#1e1e1e" stroke-width="0.9"/>
<text x="429.80" y="265.83" font-size="8.7" text-anchor="end" textLength="8.4" lengthAdjust="spacingAndGlyphs" stroke="#1e1e1e" stroke-width="0.15">10</text>
<line x1="432.80" y1="249.20" x2="435.80" y2="249.20" stroke="#1e1e1e" stroke-width="0.9"/>
<text x="429.80" y="252.33" font-size="8.7" text-anchor="end" textLength="8.4" lengthAdjust="spacingAndGlyphs" stroke="#1e1e1e" stroke-width="0.15">15</text>
<line x1="432.80" y1="235.70" x2="435.80" y2="235.70" stroke="#1e1e1e" stroke-width="0.9"/>
<text x="429.80" y="238.83" font-size="8.7" text-anchor="end" textLength="8.4" lengthAdjust="spacingAndGlyphs" stroke="#1e1e1e" stroke-width="0.15">20</text>
<text x="412.60" y="265.42" font-size="10.2" text-anchor="middle" textLength="55" lengthAdjust="spacingAndGlyphs" transform="rotate(-90 412.60 261.75)" stroke="#1e1e1e" stroke-width="0.15">% of live CD45+</text>
<text x="454.00" y="224.19" font-size="8.3" text-anchor="middle" font-weight="bold" fill="#000" textLength="78" lengthAdjust="spacingAndGlyphs" stroke="#000" stroke-width="0.05">CD11b<tspan dy="-3.65" font-size="6.14">+</tspan><tspan dy="3.65">Ly6G</tspan><tspan dy="-3.65" font-size="6.14">+</tspan><tspan dy="3.65">Ly6C</tspan><tspan dy="-3.65" font-size="6.14">int</tspan></text>
<circle cx="445.80" cy="239.75" r="1.95" fill="#1d5592"/>
<circle cx="445.80" cy="251.09" r="1.95" fill="#1d5592"/>
<circle cx="445.80" cy="256.76" r="1.95" fill="#1d5592"/>
<circle cx="445.80" cy="262.70" r="1.95" fill="#1d5592"/>
<circle cx="445.80" cy="268.10" r="1.95" fill="#1d5592"/>
<line x1="445.80" y1="245.15" x2="445.80" y2="267.29" stroke="#111" stroke-width="0.9"/>
<line x1="440.60" y1="256.22" x2="451.00" y2="256.22" stroke="#111" stroke-width="0.9"/>
<line x1="443.30" y1="245.15" x2="448.30" y2="245.15" stroke="#111" stroke-width="0.9"/>
<line x1="443.30" y1="267.29" x2="448.30" y2="267.29" stroke="#111" stroke-width="0.9"/>
<rect x="456.60" y="270.25" width="3.80" height="3.80" fill="#d31a3e"/>
<rect x="459.40" y="270.79" width="3.80" height="3.80" fill="#d31a3e"/>
<rect x="462.20" y="271.06" width="3.80" height="3.80" fill="#d31a3e"/>
<rect x="457.90" y="272.14" width="3.80" height="3.80" fill="#d31a3e"/>
<rect x="459.40" y="274.84" width="3.80" height="3.80" fill="#d31a3e"/>
<line x1="461.30" y1="271.61" x2="461.30" y2="276.20" stroke="#111" stroke-width="0.9"/>
<line x1="456.10" y1="273.77" x2="466.50" y2="273.77" stroke="#111" stroke-width="0.9"/>
<line x1="458.80" y1="271.61" x2="463.80" y2="271.61" stroke="#111" stroke-width="0.9"/>
<line x1="458.80" y1="276.20" x2="463.80" y2="276.20" stroke="#111" stroke-width="0.9"/>
<line x1="446.10" y1="235.40" x2="461.00" y2="235.40" stroke="#5a5a5a" stroke-width="1.3"/>
<text x="453.60" y="236.52" font-size="9.0" text-anchor="middle" fill="#222" stroke="#222" stroke-width="0.15">*</text>
<circle cx="480.50" cy="257.00" r="1.6" fill="#1d5592"/>
<rect x="478.90" y="265.20" width="3.20" height="3.20" fill="#d31a3e"/>
<text x="484.50" y="259.38" font-size="8.0" textLength="24.8" lengthAdjust="spacingAndGlyphs" stroke="#1e1e1e" stroke-width="0.15">Control</text>
<text x="484.50" y="269.18" font-size="8.0" textLength="27.6" lengthAdjust="spacingAndGlyphs" stroke="#1e1e1e" stroke-width="0.15">TAK-981</text>
<line x1="312.30" y1="318.50" x2="312.30" y2="376.80" stroke="#1e1e1e" stroke-width="1.3"/>
<line x1="309.30" y1="376.20" x2="366.30" y2="376.20" stroke="#1e1e1e" stroke-width="1.3"/>
<line x1="309.30" y1="376.20" x2="312.30" y2="376.20" stroke="#1e1e1e" stroke-width="0.9"/>
<text x="306.30" y="379.30" font-size="8.6" text-anchor="end" textLength="3.9" lengthAdjust="spacingAndGlyphs" stroke="#1e1e1e" stroke-width="0.15">0</text>
<line x1="309.30" y1="365.20" x2="312.30" y2="365.20" stroke="#1e1e1e" stroke-width="0.9"/>
<text x="306.30" y="368.30" font-size="8.6" text-anchor="end" textLength="3.9" lengthAdjust="spacingAndGlyphs" stroke="#1e1e1e" stroke-width="0.15">5</text>
<line x1="309.30" y1="354.20" x2="312.30" y2="354.20" stroke="#1e1e1e" stroke-width="0.9"/>
<text x="306.30" y="357.30" font-size="8.6" text-anchor="end" textLength="7.8" lengthAdjust="spacingAndGlyphs" stroke="#1e1e1e" stroke-width="0.15">10</text>
<line x1="309.30" y1="343.20" x2="312.30" y2="343.20" stroke="#1e1e1e" stroke-width="0.9"/>
<text x="306.30" y="346.30" font-size="8.6" text-anchor="end" textLength="7.8" lengthAdjust="spacingAndGlyphs" stroke="#1e1e1e" stroke-width="0.15">15</text>
<line x1="309.30" y1="332.20" x2="312.30" y2="332.20" stroke="#1e1e1e" stroke-width="0.9"/>
<text x="306.30" y="335.30" font-size="8.6" text-anchor="end" textLength="7.8" lengthAdjust="spacingAndGlyphs" stroke="#1e1e1e" stroke-width="0.15">20</text>
<line x1="309.30" y1="321.20" x2="312.30" y2="321.20" stroke="#1e1e1e" stroke-width="0.9"/>
<text x="306.30" y="324.30" font-size="8.6" text-anchor="end" textLength="7.8" lengthAdjust="spacingAndGlyphs" stroke="#1e1e1e" stroke-width="0.15">25</text>
<text x="339.30" y="311.89" font-size="8.3" text-anchor="middle" font-weight="bold" fill="#000" textLength="52.5" lengthAdjust="spacingAndGlyphs" stroke="#000" stroke-width="0.05">CD86<tspan dy="-3.65" font-size="6.14">+</tspan><tspan dy="3.65">CD206</tspan><tspan dy="-3.65" font-size="6.14">–</tspan></text>
<line x1="321.50" y1="362.10" x2="321.50" y2="369.40" stroke="#111" stroke-width="0.9"/>
<line x1="319.30" y1="362.10" x2="323.70" y2="362.10" stroke="#111" stroke-width="0.9"/>
<line x1="319.30" y1="369.40" x2="323.70" y2="369.40" stroke="#111" stroke-width="0.9"/>
<rect x="316.90" y="365.00" width="9.20" height="4.00" fill="#1d5592"/>
<line x1="316.90" y1="367.00" x2="326.10" y2="367.00" stroke="#111" stroke-width="1.0"/>
<line x1="333.35" y1="348.30" x2="333.35" y2="361.20" stroke="#111" stroke-width="0.9"/>
<line x1="331.15" y1="348.30" x2="335.55" y2="348.30" stroke="#111" stroke-width="0.9"/>
<line x1="331.15" y1="361.20" x2="335.55" y2="361.20" stroke="#111" stroke-width="0.9"/>
<rect x="328.75" y="350.80" width="9.20" height="9.00" fill="#d31a3e"/>
<line x1="328.75" y1="355.20" x2="337.95" y2="355.20" stroke="#111" stroke-width="1.0"/>
<line x1="345.00" y1="361.20" x2="345.00" y2="370.40" stroke="#111" stroke-width="0.9"/>
<line x1="342.80" y1="361.20" x2="347.20" y2="361.20" stroke="#111" stroke-width="0.9"/>
<line x1="342.80" y1="370.40" x2="347.20" y2="370.40" stroke="#111" stroke-width="0.9"/>
<rect x="340.40" y="364.40" width="9.20" height="5.00" fill="#3dbf4c"/>
<line x1="340.40" y1="366.70" x2="349.60" y2="366.70" stroke="#111" stroke-width="1.0"/>
<line x1="356.70" y1="330.60" x2="356.70" y2="350.30" stroke="#111" stroke-width="0.9"/>
<line x1="354.50" y1="330.60" x2="358.90" y2="330.60" stroke="#111" stroke-width="0.9"/>
<line x1="354.50" y1="350.30" x2="358.90" y2="350.30" stroke="#111" stroke-width="0.9"/>
<rect x="352.10" y="334.10" width="9.20" height="13.40" fill="#5a2a80"/>
<line x1="352.10" y1="339.00" x2="361.30" y2="339.00" stroke="#111" stroke-width="1.0"/>
<line x1="319.20" y1="344.00" x2="334.60" y2="344.00" stroke="#5a5a5a" stroke-width="1.3"/>
<text x="326.90" y="345.02" font-size="9.0" text-anchor="middle" fill="#222" stroke="#222" stroke-width="0.15">**</text>
<line x1="343.20" y1="326.00" x2="357.90" y2="326.00" stroke="#5a5a5a" stroke-width="1.3"/>
<text x="350.50" y="326.92" font-size="9.0" text-anchor="middle" fill="#222" stroke="#222" stroke-width="0.15">***</text>
<rect x="376.30" y="332.70" width="4.60" height="4.60" fill="#1d5592"/>
<text x="384.90" y="337.58" font-size="8.0" textLength="24.8" lengthAdjust="spacingAndGlyphs" stroke="#1e1e1e" stroke-width="0.15">Control</text>
<rect x="376.30" y="342.00" width="4.60" height="4.60" fill="#d31a3e"/>
<text x="384.90" y="346.88" font-size="8.0" textLength="28.2" lengthAdjust="spacingAndGlyphs" stroke="#1e1e1e" stroke-width="0.15">TAK-981</text>
<rect x="376.30" y="351.30" width="4.60" height="4.60" fill="#3dbf4c"/>
<text x="384.90" y="356.18" font-size="8.0" textLength="32.8" lengthAdjust="spacingAndGlyphs" stroke="#1e1e1e" stroke-width="0.15">Rituximab</text>
<rect x="376.30" y="360.60" width="4.60" height="4.60" fill="#5a2a80"/>
<text x="384.90" y="365.48" font-size="8.0" textLength="64.4" lengthAdjust="spacingAndGlyphs" stroke="#1e1e1e" stroke-width="0.15">TAK-981/Rituximab</text>
<text x="277.30" y="353.77" font-size="10.2" text-anchor="middle" textLength="60" lengthAdjust="spacingAndGlyphs" transform="rotate(-90 277.30 350.10)" stroke="#1e1e1e" stroke-width="0.15">% of CD11b<tspan dy="-3.37" font-size="7.55">+</tspan><tspan dy="3.37">Ly6G</tspan><tspan dy="-3.37" font-size="7.55">–</tspan></text>
<text x="288.50" y="353.77" font-size="10.2" text-anchor="middle" textLength="48.5" lengthAdjust="spacingAndGlyphs" transform="rotate(-90 288.50 350.10)" stroke="#1e1e1e" stroke-width="0.15">Ly6C<tspan dy="-3.37" font-size="7.55">low</tspan><tspan dy="3.37">F4/80</tspan><tspan dy="-3.37" font-size="7.55">+</tspan></text>
<line x1="312.30" y1="418.50" x2="312.30" y2="476.10" stroke="#1e1e1e" stroke-width="1.3"/>
<line x1="309.30" y1="475.50" x2="366.30" y2="475.50" stroke="#1e1e1e" stroke-width="1.3"/>
<line x1="309.30" y1="475.50" x2="312.30" y2="475.50" stroke="#1e1e1e" stroke-width="0.9"/>
<text x="306.30" y="478.60" font-size="8.6" text-anchor="end" textLength="3.9" lengthAdjust="spacingAndGlyphs" stroke="#1e1e1e" stroke-width="0.15">0</text>
<line x1="309.30" y1="462.00" x2="312.30" y2="462.00" stroke="#1e1e1e" stroke-width="0.9"/>
<text x="306.30" y="465.10" font-size="8.6" text-anchor="end" textLength="7.8" lengthAdjust="spacingAndGlyphs" stroke="#1e1e1e" stroke-width="0.15">20</text>
<line x1="309.30" y1="448.50" x2="312.30" y2="448.50" stroke="#1e1e1e" stroke-width="0.9"/>
<text x="306.30" y="451.60" font-size="8.6" text-anchor="end" textLength="7.8" lengthAdjust="spacingAndGlyphs" stroke="#1e1e1e" stroke-width="0.15">40</text>
<line x1="309.30" y1="435.00" x2="312.30" y2="435.00" stroke="#1e1e1e" stroke-width="0.9"/>
<text x="306.30" y="438.10" font-size="8.6" text-anchor="end" textLength="7.8" lengthAdjust="spacingAndGlyphs" stroke="#1e1e1e" stroke-width="0.15">60</text>
<line x1="309.30" y1="421.50" x2="312.30" y2="421.50" stroke="#1e1e1e" stroke-width="0.9"/>
<text x="306.30" y="424.60" font-size="8.6" text-anchor="end" textLength="7.8" lengthAdjust="spacingAndGlyphs" stroke="#1e1e1e" stroke-width="0.15">80</text>
<text x="340.00" y="411.39" font-size="8.3" text-anchor="middle" font-weight="bold" fill="#000" textLength="52.5" lengthAdjust="spacingAndGlyphs" stroke="#000" stroke-width="0.05">CD86<tspan dy="-3.65" font-size="6.14">–</tspan><tspan dy="3.65">CD206</tspan><tspan dy="-3.65" font-size="6.14">+</tspan></text>
<line x1="321.50" y1="439.25" x2="321.50" y2="448.00" stroke="#111" stroke-width="0.9"/>
<line x1="319.30" y1="439.25" x2="323.70" y2="439.25" stroke="#111" stroke-width="0.9"/>
<line x1="319.30" y1="448.00" x2="323.70" y2="448.00" stroke="#111" stroke-width="0.9"/>
<rect x="316.90" y="441.25" width="9.20" height="5.00" fill="#1d5592"/>
<line x1="316.90" y1="443.75" x2="326.10" y2="443.75" stroke="#111" stroke-width="1.0"/>
<line x1="333.35" y1="446.25" x2="333.35" y2="456.25" stroke="#111" stroke-width="0.9"/>
<line x1="331.15" y1="446.25" x2="335.55" y2="446.25" stroke="#111" stroke-width="0.9"/>
<line x1="331.15" y1="456.25" x2="335.55" y2="456.25" stroke="#111" stroke-width="0.9"/>
<rect x="328.75" y="448.75" width="9.20" height="5.75" fill="#d31a3e"/>
<line x1="328.75" y1="451.50" x2="337.95" y2="451.50" stroke="#111" stroke-width="1.0"/>
<line x1="345.00" y1="436.25" x2="345.00" y2="448.25" stroke="#111" stroke-width="0.9"/>
<line x1="342.80" y1="436.25" x2="347.20" y2="436.25" stroke="#111" stroke-width="0.9"/>
<line x1="342.80" y1="448.25" x2="347.20" y2="448.25" stroke="#111" stroke-width="0.9"/>
<rect x="340.40" y="438.75" width="9.20" height="6.75" fill="#3dbf4c"/>
<line x1="340.40" y1="442.00" x2="349.60" y2="442.00" stroke="#111" stroke-width="1.0"/>
<line x1="356.70" y1="454.50" x2="356.70" y2="469.50" stroke="#111" stroke-width="0.9"/>
<line x1="354.50" y1="454.50" x2="358.90" y2="454.50" stroke="#111" stroke-width="0.9"/>
<line x1="354.50" y1="469.50" x2="358.90" y2="469.50" stroke="#111" stroke-width="0.9"/>
<rect x="352.10" y="454.50" width="9.20" height="11.25" fill="#5a2a80"/>
<line x1="352.10" y1="457.50" x2="361.30" y2="457.50" stroke="#111" stroke-width="1.0"/>
<line x1="319.00" y1="434.30" x2="334.80" y2="434.30" stroke="#5a5a5a" stroke-width="1.3"/>
<text x="327.00" y="435.72" font-size="9.0" text-anchor="middle" fill="#222" stroke="#222" stroke-width="0.15">*</text>
<line x1="343.00" y1="429.80" x2="358.50" y2="429.80" stroke="#5a5a5a" stroke-width="1.3"/>
<text x="350.50" y="431.02" font-size="9.0" text-anchor="middle" fill="#222" stroke="#222" stroke-width="0.15">**</text>
<rect x="376.30" y="432.20" width="4.60" height="4.60" fill="#1d5592"/>
<text x="384.90" y="437.08" font-size="8.0" textLength="24.8" lengthAdjust="spacingAndGlyphs" stroke="#1e1e1e" stroke-width="0.15">Control</text>
<rect x="376.30" y="441.50" width="4.60" height="4.60" fill="#d31a3e"/>
<text x="384.90" y="446.38" font-size="8.0" textLength="28.2" lengthAdjust="spacingAndGlyphs" stroke="#1e1e1e" stroke-width="0.15">TAK-981</text>
<rect x="376.30" y="450.80" width="4.60" height="4.60" fill="#3dbf4c"/>
<text x="384.90" y="455.68" font-size="8.0" textLength="32.8" lengthAdjust="spacingAndGlyphs" stroke="#1e1e1e" stroke-width="0.15">Rituximab</text>
<rect x="376.30" y="460.10" width="4.60" height="4.60" fill="#5a2a80"/>
<text x="384.90" y="464.98" font-size="8.0" textLength="64.4" lengthAdjust="spacingAndGlyphs" stroke="#1e1e1e" stroke-width="0.15">TAK-981/Rituximab</text>
<text x="277.30" y="452.97" font-size="10.2" text-anchor="middle" textLength="60" lengthAdjust="spacingAndGlyphs" transform="rotate(-90 277.30 449.30)" stroke="#1e1e1e" stroke-width="0.15">% of CD11b<tspan dy="-3.37" font-size="7.55">+</tspan><tspan dy="3.37">Ly6G</tspan><tspan dy="-3.37" font-size="7.55">–</tspan></text>
<text x="288.50" y="452.97" font-size="10.2" text-anchor="middle" textLength="48.5" lengthAdjust="spacingAndGlyphs" transform="rotate(-90 288.50 449.30)" stroke="#1e1e1e" stroke-width="0.15">Ly6C<tspan dy="-3.37" font-size="7.55">low</tspan><tspan dy="3.37">F4/80</tspan><tspan dy="-3.37" font-size="7.55">+</tspan></text>
<line x1="272.70" y1="524.50" x2="272.70" y2="582.30" stroke="#1e1e1e" stroke-width="1.3"/>
<line x1="269.70" y1="581.70" x2="327.00" y2="581.70" stroke="#1e1e1e" stroke-width="1.3"/>
<line x1="269.70" y1="581.70" x2="272.70" y2="581.70" stroke="#1e1e1e" stroke-width="0.9"/>
<text x="266.70" y="584.80" font-size="8.6" text-anchor="end" textLength="3.9" lengthAdjust="spacingAndGlyphs" stroke="#1e1e1e" stroke-width="0.15">0</text>
<line x1="269.70" y1="563.85" x2="272.70" y2="563.85" stroke="#1e1e1e" stroke-width="0.9"/>
<text x="266.70" y="566.95" font-size="8.6" text-anchor="end" textLength="7.8" lengthAdjust="spacingAndGlyphs" stroke="#1e1e1e" stroke-width="0.15">20</text>
<line x1="269.70" y1="546.00" x2="272.70" y2="546.00" stroke="#1e1e1e" stroke-width="0.9"/>
<text x="266.70" y="549.10" font-size="8.6" text-anchor="end" textLength="7.8" lengthAdjust="spacingAndGlyphs" stroke="#1e1e1e" stroke-width="0.15">40</text>
<line x1="269.70" y1="528.15" x2="272.70" y2="528.15" stroke="#1e1e1e" stroke-width="0.9"/>
<text x="266.70" y="531.25" font-size="8.6" text-anchor="end" textLength="7.8" lengthAdjust="spacingAndGlyphs" stroke="#1e1e1e" stroke-width="0.15">60</text>
<text x="300.00" y="517.59" font-size="8.3" text-anchor="middle" font-weight="bold" fill="#000" textLength="29.2" lengthAdjust="spacingAndGlyphs" stroke="#000" stroke-width="0.05">FCGR4<tspan dy="-3.65" font-size="6.14">+</tspan></text>
<line x1="281.90" y1="544.60" x2="281.90" y2="561.30" stroke="#111" stroke-width="0.9"/>
<line x1="279.70" y1="544.60" x2="284.10" y2="544.60" stroke="#111" stroke-width="0.9"/>
<line x1="279.70" y1="561.30" x2="284.10" y2="561.30" stroke="#111" stroke-width="0.9"/>
<rect x="277.40" y="549.80" width="9.00" height="8.60" fill="#1d5592"/>
<line x1="277.40" y1="555.20" x2="286.40" y2="555.20" stroke="#111" stroke-width="1.0"/>
<line x1="293.70" y1="534.80" x2="293.70" y2="548.80" stroke="#111" stroke-width="0.9"/>
<line x1="291.50" y1="534.80" x2="295.90" y2="534.80" stroke="#111" stroke-width="0.9"/>
<line x1="291.50" y1="548.80" x2="295.90" y2="548.80" stroke="#111" stroke-width="0.9"/>
<rect x="289.20" y="536.50" width="9.00" height="10.00" fill="#d31a3e"/>
<line x1="289.20" y1="544.00" x2="298.20" y2="544.00" stroke="#111" stroke-width="1.0"/>
<line x1="305.50" y1="547.30" x2="305.50" y2="563.30" stroke="#111" stroke-width="0.9"/>
<line x1="303.30" y1="547.30" x2="307.70" y2="547.30" stroke="#111" stroke-width="0.9"/>
<line x1="303.30" y1="563.30" x2="307.70" y2="563.30" stroke="#111" stroke-width="0.9"/>
<rect x="301.00" y="548.00" width="9.00" height="15.30" fill="#3dbf4c"/>
<line x1="301.00" y1="552.30" x2="310.00" y2="552.30" stroke="#111" stroke-width="1.0"/>
<line x1="317.40" y1="535.90" x2="317.40" y2="548.30" stroke="#111" stroke-width="0.9"/>
<line x1="315.20" y1="535.90" x2="319.60" y2="535.90" stroke="#111" stroke-width="0.9"/>
<line x1="315.20" y1="548.30" x2="319.60" y2="548.30" stroke="#111" stroke-width="0.9"/>
<rect x="312.90" y="536.50" width="9.00" height="10.30" fill="#5a2a80"/>
<line x1="312.90" y1="544.50" x2="321.90" y2="544.50" stroke="#111" stroke-width="1.0"/>
<line x1="279.80" y1="529.70" x2="294.80" y2="529.70" stroke="#5a5a5a" stroke-width="1.3"/>
<text x="287.50" y="529.72" font-size="9.0" text-anchor="middle" fill="#222" stroke="#222" stroke-width="0.15">*</text>
<line x1="303.00" y1="530.30" x2="318.20" y2="530.30" stroke="#5a5a5a" stroke-width="1.3"/>
<text x="311.50" y="530.72" font-size="9.0" text-anchor="middle" fill="#222" stroke="#222" stroke-width="0.15">*</text>
<rect x="266.30" y="593.20" width="4.60" height="4.60" fill="#1d5592"/>
<text x="274.90" y="598.08" font-size="8.0" textLength="24.8" lengthAdjust="spacingAndGlyphs" stroke="#1e1e1e" stroke-width="0.15">Control</text>
<rect x="266.30" y="602.50" width="4.60" height="4.60" fill="#d31a3e"/>
<text x="274.90" y="607.38" font-size="8.0" textLength="28.2" lengthAdjust="spacingAndGlyphs" stroke="#1e1e1e" stroke-width="0.15">TAK-981</text>
<rect x="266.30" y="611.80" width="4.60" height="4.60" fill="#3dbf4c"/>
<text x="274.90" y="616.68" font-size="8.0" textLength="32.8" lengthAdjust="spacingAndGlyphs" stroke="#1e1e1e" stroke-width="0.15">Rituximab</text>
<rect x="266.30" y="621.10" width="4.60" height="4.60" fill="#5a2a80"/>
<text x="274.90" y="625.98" font-size="8.0" textLength="64.4" lengthAdjust="spacingAndGlyphs" stroke="#1e1e1e" stroke-width="0.15">TAK-981/Rituximab</text>
<text x="237.60" y="559.27" font-size="10.2" text-anchor="middle" textLength="60" lengthAdjust="spacingAndGlyphs" transform="rotate(-90 237.60 555.60)" stroke="#1e1e1e" stroke-width="0.15">% of CD11b<tspan dy="-3.37" font-size="7.55">+</tspan><tspan dy="3.37">Ly6G</tspan><tspan dy="-3.37" font-size="7.55">–</tspan></text>
<text x="248.30" y="559.27" font-size="10.2" text-anchor="middle" textLength="48.5" lengthAdjust="spacingAndGlyphs" transform="rotate(-90 248.30 555.60)" stroke="#1e1e1e" stroke-width="0.15">Ly6C<tspan dy="-3.37" font-size="7.55">low</tspan><tspan dy="3.37">F4/80</tspan><tspan dy="-3.37" font-size="7.55">+</tspan></text>
<line x1="376.00" y1="524.50" x2="376.00" y2="582.60" stroke="#1e1e1e" stroke-width="1.3"/>
<line x1="373.00" y1="582.00" x2="430.00" y2="582.00" stroke="#1e1e1e" stroke-width="1.3"/>
<line x1="373.00" y1="582.00" x2="376.00" y2="582.00" stroke="#1e1e1e" stroke-width="0.9"/>
<text x="370.00" y="585.10" font-size="8.6" text-anchor="end" textLength="3.9" lengthAdjust="spacingAndGlyphs" stroke="#1e1e1e" stroke-width="0.15">0</text>
<line x1="373.00" y1="568.40" x2="376.00" y2="568.40" stroke="#1e1e1e" stroke-width="0.9"/>
<text x="370.00" y="571.50" font-size="8.6" text-anchor="end" textLength="7.8" lengthAdjust="spacingAndGlyphs" stroke="#1e1e1e" stroke-width="0.15">20</text>
<line x1="373.00" y1="554.80" x2="376.00" y2="554.80" stroke="#1e1e1e" stroke-width="0.9"/>
<text x="370.00" y="557.90" font-size="8.6" text-anchor="end" textLength="7.8" lengthAdjust="spacingAndGlyphs" stroke="#1e1e1e" stroke-width="0.15">40</text>
<line x1="373.00" y1="541.20" x2="376.00" y2="541.20" stroke="#1e1e1e" stroke-width="0.9"/>
<text x="370.00" y="544.30" font-size="8.6" text-anchor="end" textLength="7.8" lengthAdjust="spacingAndGlyphs" stroke="#1e1e1e" stroke-width="0.15">60</text>
<line x1="373.00" y1="527.60" x2="376.00" y2="527.60" stroke="#1e1e1e" stroke-width="0.9"/>
<text x="370.00" y="530.70" font-size="8.6" text-anchor="end" textLength="7.8" lengthAdjust="spacingAndGlyphs" stroke="#1e1e1e" stroke-width="0.15">80</text>
<text x="402.70" y="517.19" font-size="8.3" text-anchor="middle" font-weight="bold" fill="#000" textLength="23.8" lengthAdjust="spacingAndGlyphs" stroke="#000" stroke-width="0.05">CD69<tspan dy="-3.65" font-size="6.14">+</tspan></text>
<line x1="385.00" y1="551.40" x2="385.00" y2="561.20" stroke="#111" stroke-width="0.9"/>
<line x1="382.80" y1="551.40" x2="387.20" y2="551.40" stroke="#111" stroke-width="0.9"/>
<line x1="382.80" y1="561.20" x2="387.20" y2="561.20" stroke="#111" stroke-width="0.9"/>
<rect x="380.40" y="555.20" width="9.20" height="5.80" fill="#1d5592"/>
<line x1="380.40" y1="558.00" x2="389.60" y2="558.00" stroke="#111" stroke-width="1.0"/>
<line x1="397.00" y1="540.20" x2="397.00" y2="558.30" stroke="#111" stroke-width="0.9"/>
<line x1="394.80" y1="540.20" x2="399.20" y2="540.20" stroke="#111" stroke-width="0.9"/>
<line x1="394.80" y1="558.30" x2="399.20" y2="558.30" stroke="#111" stroke-width="0.9"/>
<rect x="392.40" y="542.80" width="9.20" height="13.20" fill="#d31a3e"/>
<line x1="392.40" y1="551.20" x2="401.60" y2="551.20" stroke="#111" stroke-width="1.0"/>
<line x1="408.75" y1="552.60" x2="408.75" y2="563.30" stroke="#111" stroke-width="0.9"/>
<line x1="406.55" y1="552.60" x2="410.95" y2="552.60" stroke="#111" stroke-width="0.9"/>
<line x1="406.55" y1="563.30" x2="410.95" y2="563.30" stroke="#111" stroke-width="0.9"/>
<rect x="404.15" y="554.30" width="9.20" height="7.50" fill="#3dbf4c"/>
<line x1="404.15" y1="559.80" x2="413.35" y2="559.80" stroke="#111" stroke-width="1.0"/>
<line x1="420.50" y1="539.30" x2="420.50" y2="560.90" stroke="#111" stroke-width="0.9"/>
<line x1="418.30" y1="539.30" x2="422.70" y2="539.30" stroke="#111" stroke-width="0.9"/>
<line x1="418.30" y1="560.90" x2="422.70" y2="560.90" stroke="#111" stroke-width="0.9"/>
<rect x="415.90" y="547.10" width="9.20" height="13.80" fill="#5a2a80"/>
<line x1="415.90" y1="555.40" x2="425.10" y2="555.40" stroke="#111" stroke-width="1.0"/>
<line x1="382.50" y1="534.50" x2="397.50" y2="534.50" stroke="#5a5a5a" stroke-width="1.3"/>
<text x="389.40" y="531.96" font-size="7.4" text-anchor="middle" fill="#333" textLength="23.5" lengthAdjust="spacingAndGlyphs" stroke="#333" stroke-width="0.15">P = 0.06</text>
<line x1="407.00" y1="534.50" x2="422.50" y2="534.50" stroke="#5a5a5a" stroke-width="1.3"/>
<text x="415.00" y="531.96" font-size="7.4" text-anchor="middle" fill="#333" textLength="22.5" lengthAdjust="spacingAndGlyphs" stroke="#333" stroke-width="0.15">P = 0.38</text>
<rect x="439.90" y="538.90" width="4.60" height="4.60" fill="#1d5592"/>
<text x="448.50" y="543.78" font-size="8.0" textLength="24.8" lengthAdjust="spacingAndGlyphs" stroke="#1e1e1e" stroke-width="0.15">Control</text>
<rect x="439.90" y="548.20" width="4.60" height="4.60" fill="#d31a3e"/>
<text x="448.50" y="553.08" font-size="8.0" textLength="28.2" lengthAdjust="spacingAndGlyphs" stroke="#1e1e1e" stroke-width="0.15">TAK-981</text>
<rect x="439.90" y="557.50" width="4.60" height="4.60" fill="#3dbf4c"/>
<text x="448.50" y="562.38" font-size="8.0" textLength="32.8" lengthAdjust="spacingAndGlyphs" stroke="#1e1e1e" stroke-width="0.15">Rituximab</text>
<rect x="439.90" y="566.80" width="4.60" height="4.60" fill="#5a2a80"/>
<text x="448.50" y="571.68" font-size="8.0" textLength="64.4" lengthAdjust="spacingAndGlyphs" stroke="#1e1e1e" stroke-width="0.15">TAK-981/Rituximab</text>
<text x="352.50" y="557.67" font-size="10.2" text-anchor="middle" textLength="41" lengthAdjust="spacingAndGlyphs" transform="rotate(-90 352.50 554.00)" stroke="#1e1e1e" stroke-width="0.15">% of NKp46<tspan dy="-3.06" font-size="7.55">+</tspan></text>
<line x1="376.00" y1="622.50" x2="376.00" y2="680.60" stroke="#1e1e1e" stroke-width="1.3"/>
<line x1="373.00" y1="680.00" x2="430.00" y2="680.00" stroke="#1e1e1e" stroke-width="1.3"/>
<line x1="373.00" y1="680.00" x2="376.00" y2="680.00" stroke="#1e1e1e" stroke-width="0.9"/>
<text x="370.00" y="683.10" font-size="8.6" text-anchor="end" textLength="3.9" lengthAdjust="spacingAndGlyphs" stroke="#1e1e1e" stroke-width="0.15">0</text>
<line x1="373.00" y1="666.55" x2="376.00" y2="666.55" stroke="#1e1e1e" stroke-width="0.9"/>
<text x="370.00" y="669.65" font-size="8.6" text-anchor="end" textLength="3.9" lengthAdjust="spacingAndGlyphs" stroke="#1e1e1e" stroke-width="0.15">1</text>
<line x1="373.00" y1="653.10" x2="376.00" y2="653.10" stroke="#1e1e1e" stroke-width="0.9"/>
<text x="370.00" y="656.20" font-size="8.6" text-anchor="end" textLength="3.9" lengthAdjust="spacingAndGlyphs" stroke="#1e1e1e" stroke-width="0.15">2</text>
<line x1="373.00" y1="639.65" x2="376.00" y2="639.65" stroke="#1e1e1e" stroke-width="0.9"/>
<text x="370.00" y="642.75" font-size="8.6" text-anchor="end" textLength="3.9" lengthAdjust="spacingAndGlyphs" stroke="#1e1e1e" stroke-width="0.15">3</text>
<line x1="373.00" y1="626.20" x2="376.00" y2="626.20" stroke="#1e1e1e" stroke-width="0.9"/>
<text x="370.00" y="629.30" font-size="8.6" text-anchor="end" textLength="3.9" lengthAdjust="spacingAndGlyphs" stroke="#1e1e1e" stroke-width="0.15">4</text>
<text x="401.70" y="611.89" font-size="8.3" text-anchor="middle" font-weight="bold" fill="#000" textLength="19.6" lengthAdjust="spacingAndGlyphs" stroke="#000" stroke-width="0.05">IFNγ<tspan dy="-3.65" font-size="6.14">+</tspan></text>
<line x1="385.00" y1="658.75" x2="385.00" y2="669.25" stroke="#111" stroke-width="0.9"/>
<line x1="382.80" y1="658.75" x2="387.20" y2="658.75" stroke="#111" stroke-width="0.9"/>
<line x1="382.80" y1="669.25" x2="387.20" y2="669.25" stroke="#111" stroke-width="0.9"/>
<rect x="380.40" y="660.50" width="9.20" height="7.00" fill="#1d5592"/>
<line x1="380.40" y1="664.50" x2="389.60" y2="664.50" stroke="#111" stroke-width="1.0"/>
<line x1="397.00" y1="630.75" x2="397.00" y2="663.00" stroke="#111" stroke-width="0.9"/>
<line x1="394.80" y1="630.75" x2="399.20" y2="630.75" stroke="#111" stroke-width="0.9"/>
<line x1="394.80" y1="663.00" x2="399.20" y2="663.00" stroke="#111" stroke-width="0.9"/>
<rect x="392.40" y="633.75" width="9.20" height="23.25" fill="#d31a3e"/>
<line x1="392.40" y1="646.25" x2="401.60" y2="646.25" stroke="#111" stroke-width="1.0"/>
<line x1="408.75" y1="662.00" x2="408.75" y2="666.50" stroke="#111" stroke-width="0.9"/>
<line x1="406.55" y1="662.00" x2="410.95" y2="662.00" stroke="#111" stroke-width="0.9"/>
<line x1="406.55" y1="666.50" x2="410.95" y2="666.50" stroke="#111" stroke-width="0.9"/>
<rect x="404.15" y="664.30" width="9.20" height="2.00" fill="#3dbf4c"/>
<line x1="404.15" y1="665.20" x2="413.35" y2="665.20" stroke="#111" stroke-width="1.0"/>
<line x1="420.50" y1="628.75" x2="420.50" y2="652.00" stroke="#111" stroke-width="0.9"/>
<line x1="418.30" y1="628.75" x2="422.70" y2="628.75" stroke="#111" stroke-width="0.9"/>
<line x1="418.30" y1="652.00" x2="422.70" y2="652.00" stroke="#111" stroke-width="0.9"/>
<rect x="415.90" y="635.00" width="9.20" height="17.00" fill="#5a2a80"/>
<line x1="415.90" y1="644.25" x2="425.10" y2="644.25" stroke="#111" stroke-width="1.0"/>
<line x1="382.50" y1="627.50" x2="397.50" y2="627.50" stroke="#5a5a5a" stroke-width="1.3"/>
<text x="389.40" y="624.66" font-size="7.4" text-anchor="middle" fill="#333" textLength="23.5" lengthAdjust="spacingAndGlyphs" stroke="#333" stroke-width="0.15">P = 0.03</text>
<line x1="407.50" y1="625.50" x2="423.00" y2="625.50" stroke="#5a5a5a" stroke-width="1.3"/>
<text x="417.20" y="623.16" font-size="7.4" text-anchor="middle" fill="#333" textLength="27" lengthAdjust="spacingAndGlyphs" stroke="#333" stroke-width="0.15">P = 0.006</text>
<rect x="439.90" y="637.30" width="4.60" height="4.60" fill="#1d5592"/>
<text x="448.50" y="642.18" font-size="8.0" textLength="24.8" lengthAdjust="spacingAndGlyphs" stroke="#1e1e1e" stroke-width="0.15">Control</text>
<rect x="439.90" y="646.60" width="4.60" height="4.60" fill="#d31a3e"/>
<text x="448.50" y="651.48" font-size="8.0" textLength="28.2" lengthAdjust="spacingAndGlyphs" stroke="#1e1e1e" stroke-width="0.15">TAK-981</text>
<rect x="439.90" y="655.90" width="4.60" height="4.60" fill="#3dbf4c"/>
<text x="448.50" y="660.78" font-size="8.0" textLength="32.8" lengthAdjust="spacingAndGlyphs" stroke="#1e1e1e" stroke-width="0.15">Rituximab</text>
<rect x="439.90" y="665.20" width="4.60" height="4.60" fill="#5a2a80"/>
<text x="448.50" y="670.08" font-size="8.0" textLength="64.4" lengthAdjust="spacingAndGlyphs" stroke="#1e1e1e" stroke-width="0.15">TAK-981/Rituximab</text>
<text x="354.50" y="657.17" font-size="10.2" text-anchor="middle" textLength="41" lengthAdjust="spacingAndGlyphs" transform="rotate(-90 354.50 653.50)" stroke="#1e1e1e" stroke-width="0.15">% of NKp46<tspan dy="-3.06" font-size="7.55">+</tspan></text>
<path d="M58.00 345.45 C58.34 343.16 59.47 339.71 61.39 337.59 C63.31 335.48 67.03 333.73 69.52 332.75 C72.00 331.77 74.03 331.00 76.29 331.70 C78.55 332.40 81.60 334.87 83.07 336.94 C84.54 339.01 85.44 341.63 85.10 344.14 C84.76 346.66 83.07 349.71 81.03 352.00 C79.00 354.30 75.50 357.25 72.91 357.90 C70.31 358.55 67.71 357.03 65.45 355.93 C63.19 354.84 60.60 353.10 59.35 351.35 C58.11 349.60 57.66 347.75 58.00 345.45 Z" fill="url(#g1)" stroke="#c8c8c8" stroke-width="0.6"/>
<path d="M62.29 344.77 C62.54 343.12 63.35 340.64 64.73 339.11 C66.12 337.59 68.80 336.33 70.59 335.62 C72.38 334.92 73.84 334.36 75.46 334.87 C77.09 335.37 79.29 337.15 80.34 338.64 C81.40 340.13 82.05 342.02 81.81 343.83 C81.56 345.64 80.34 347.84 78.88 349.49 C77.42 351.14 74.90 353.26 73.03 353.73 C71.16 354.20 69.29 353.10 67.66 352.32 C66.03 351.53 64.16 350.27 63.27 349.02 C62.38 347.76 62.05 346.42 62.29 344.77 Z" fill="none" stroke="#c2c2c2" stroke-width="0.5"/>
<path d="M66.25 344.29 C66.40 343.26 66.91 341.71 67.78 340.76 C68.64 339.80 70.32 339.02 71.44 338.58 C72.55 338.13 73.47 337.79 74.48 338.10 C75.50 338.42 76.87 339.53 77.53 340.46 C78.19 341.40 78.60 342.58 78.45 343.71 C78.30 344.84 77.53 346.21 76.62 347.24 C75.70 348.27 74.13 349.60 72.96 349.89 C71.79 350.19 70.62 349.50 69.61 349.01 C68.59 348.52 67.42 347.73 66.86 346.95 C66.30 346.16 66.10 345.33 66.25 344.29 Z" fill="none" stroke="#b5b5b5" stroke-width="0.5"/>
<ellipse cx="73.40" cy="344.60" rx="1.8" ry="1.1" fill="#f6f6f6"/>
<line x1="73.50" y1="316.00" x2="73.50" y2="373.70" stroke="#5a5a5a" stroke-width="1.0"/>
<line x1="51.50" y1="349.50" x2="109.30" y2="349.50" stroke="#5a5a5a" stroke-width="1.0"/>
<rect x="51.50" y="316.00" width="57.80" height="57.70" fill="none" stroke="#1e1e1e" stroke-width="1.1"/>
<text x="80.40" y="311.89" font-size="8.3" text-anchor="middle" font-weight="bold" fill="#000" textLength="27.7" lengthAdjust="spacingAndGlyphs" stroke="#000" stroke-width="0.05">Control</text>
<text x="53.30" y="324.48" font-size="8.0" stroke="#1e1e1e" stroke-width="0.15">46.2</text>
<text x="107.00" y="324.48" font-size="8.0" text-anchor="end" stroke="#1e1e1e" stroke-width="0.15">35.9</text>
<text x="53.30" y="371.28" font-size="8.0" stroke="#1e1e1e" stroke-width="0.15">12.9</text>
<text x="107.00" y="371.28" font-size="8.0" text-anchor="end" stroke="#1e1e1e" stroke-width="0.15">4.95</text>
<text x="47.50" y="325.09" font-size="8.3" text-anchor="end" textLength="11.4" lengthAdjust="spacingAndGlyphs" stroke="#1e1e1e" stroke-width="0.15">10<tspan dy="-3.65" font-size="6.14">5</tspan></text>
<line x1="48.90" y1="321.50" x2="51.50" y2="321.50" stroke="#222" stroke-width="0.8"/>
<text x="47.50" y="336.79" font-size="8.3" text-anchor="end" textLength="11.4" lengthAdjust="spacingAndGlyphs" stroke="#1e1e1e" stroke-width="0.15">10<tspan dy="-3.65" font-size="6.14">4</tspan></text>
<line x1="48.90" y1="333.20" x2="51.50" y2="333.20" stroke="#222" stroke-width="0.8"/>
<text x="47.50" y="348.49" font-size="8.3" text-anchor="end" textLength="11.4" lengthAdjust="spacingAndGlyphs" stroke="#1e1e1e" stroke-width="0.15">10<tspan dy="-3.65" font-size="6.14">3</tspan></text>
<line x1="48.90" y1="344.90" x2="51.50" y2="344.90" stroke="#222" stroke-width="0.8"/>
<text x="47.50" y="360.19" font-size="8.3" text-anchor="end" textLength="11.4" lengthAdjust="spacingAndGlyphs" stroke="#1e1e1e" stroke-width="0.15">10<tspan dy="-3.65" font-size="6.14">2</tspan></text>
<line x1="48.90" y1="356.60" x2="51.50" y2="356.60" stroke="#222" stroke-width="0.8"/>
<text x="47.50" y="371.89" font-size="8.3" text-anchor="end" textLength="11.4" lengthAdjust="spacingAndGlyphs" stroke="#1e1e1e" stroke-width="0.15">10<tspan dy="-3.65" font-size="6.14">1</tspan></text>
<line x1="48.90" y1="368.30" x2="51.50" y2="368.30" stroke="#222" stroke-width="0.8"/>
<line x1="50.20" y1="329.69" x2="51.50" y2="329.69" stroke="#555" stroke-width="0.5"/>
<line x1="50.20" y1="327.58" x2="51.50" y2="327.58" stroke="#555" stroke-width="0.5"/>
<line x1="50.20" y1="326.18" x2="51.50" y2="326.18" stroke="#555" stroke-width="0.5"/>
<line x1="50.20" y1="325.01" x2="51.50" y2="325.01" stroke="#555" stroke-width="0.5"/>
<line x1="50.20" y1="324.07" x2="51.50" y2="324.07" stroke="#555" stroke-width="0.5"/>
<line x1="50.20" y1="323.25" x2="51.50" y2="323.25" stroke="#555" stroke-width="0.5"/>
<line x1="50.20" y1="322.67" x2="51.50" y2="322.67" stroke="#555" stroke-width="0.5"/>
<line x1="50.20" y1="322.08" x2="51.50" y2="322.08" stroke="#555" stroke-width="0.5"/>
<line x1="50.20" y1="341.39" x2="51.50" y2="341.39" stroke="#555" stroke-width="0.5"/>
<line x1="50.20" y1="339.28" x2="51.50" y2="339.28" stroke="#555" stroke-width="0.5"/>
<line x1="50.20" y1="337.88" x2="51.50" y2="337.88" stroke="#555" stroke-width="0.5"/>
<line x1="50.20" y1="336.71" x2="51.50" y2="336.71" stroke="#555" stroke-width="0.5"/>
<line x1="50.20" y1="335.77" x2="51.50" y2="335.77" stroke="#555" stroke-width="0.5"/>
<line x1="50.20" y1="334.95" x2="51.50" y2="334.95" stroke="#555" stroke-width="0.5"/>
<line x1="50.20" y1="334.37" x2="51.50" y2="334.37" stroke="#555" stroke-width="0.5"/>
<line x1="50.20" y1="333.78" x2="51.50" y2="333.78" stroke="#555" stroke-width="0.5"/>
<line x1="50.20" y1="353.09" x2="51.50" y2="353.09" stroke="#555" stroke-width="0.5"/>
<line x1="50.20" y1="350.98" x2="51.50" y2="350.98" stroke="#555" stroke-width="0.5"/>
<line x1="50.20" y1="349.58" x2="51.50" y2="349.58" stroke="#555" stroke-width="0.5"/>
<line x1="50.20" y1="348.41" x2="51.50" y2="348.41" stroke="#555" stroke-width="0.5"/>
<line x1="50.20" y1="347.47" x2="51.50" y2="347.47" stroke="#555" stroke-width="0.5"/>
<line x1="50.20" y1="346.66" x2="51.50" y2="346.66" stroke="#555" stroke-width="0.5"/>
<line x1="50.20" y1="346.07" x2="51.50" y2="346.07" stroke="#555" stroke-width="0.5"/>
<line x1="50.20" y1="345.49" x2="51.50" y2="345.49" stroke="#555" stroke-width="0.5"/>
<line x1="50.20" y1="364.79" x2="51.50" y2="364.79" stroke="#555" stroke-width="0.5"/>
<line x1="50.20" y1="362.68" x2="51.50" y2="362.68" stroke="#555" stroke-width="0.5"/>
<line x1="50.20" y1="361.28" x2="51.50" y2="361.28" stroke="#555" stroke-width="0.5"/>
<line x1="50.20" y1="360.11" x2="51.50" y2="360.11" stroke="#555" stroke-width="0.5"/>
<line x1="50.20" y1="359.17" x2="51.50" y2="359.17" stroke="#555" stroke-width="0.5"/>
<line x1="50.20" y1="358.36" x2="51.50" y2="358.36" stroke="#555" stroke-width="0.5"/>
<line x1="50.20" y1="357.77" x2="51.50" y2="357.77" stroke="#555" stroke-width="0.5"/>
<line x1="50.20" y1="357.19" x2="51.50" y2="357.19" stroke="#555" stroke-width="0.5"/>
<text x="57.10" y="386.40" font-size="8.6" text-anchor="middle" textLength="10.0" lengthAdjust="spacingAndGlyphs" stroke="#1e1e1e" stroke-width="0.15">10<tspan dy="-3.78" font-size="6.36">1</tspan></text>
<line x1="57.10" y1="373.70" x2="57.10" y2="376.30" stroke="#222" stroke-width="0.8"/>
<text x="69.10" y="386.40" font-size="8.6" text-anchor="middle" textLength="10.0" lengthAdjust="spacingAndGlyphs" stroke="#1e1e1e" stroke-width="0.15">10<tspan dy="-3.78" font-size="6.36">2</tspan></text>
<line x1="69.10" y1="373.70" x2="69.10" y2="376.30" stroke="#222" stroke-width="0.8"/>
<text x="81.10" y="386.40" font-size="8.6" text-anchor="middle" textLength="10.0" lengthAdjust="spacingAndGlyphs" stroke="#1e1e1e" stroke-width="0.15">10<tspan dy="-3.78" font-size="6.36">3</tspan></text>
<line x1="81.10" y1="373.70" x2="81.10" y2="376.30" stroke="#222" stroke-width="0.8"/>
<text x="93.10" y="386.40" font-size="8.6" text-anchor="middle" textLength="10.0" lengthAdjust="spacingAndGlyphs" stroke="#1e1e1e" stroke-width="0.15">10<tspan dy="-3.78" font-size="6.36">4</tspan></text>
<line x1="93.10" y1="373.70" x2="93.10" y2="376.30" stroke="#222" stroke-width="0.8"/>
<text x="105.10" y="386.40" font-size="8.6" text-anchor="middle" textLength="10.0" lengthAdjust="spacingAndGlyphs" stroke="#1e1e1e" stroke-width="0.15">10<tspan dy="-3.78" font-size="6.36">5</tspan></text>
<line x1="105.10" y1="373.70" x2="105.10" y2="376.30" stroke="#222" stroke-width="0.8"/>
<line x1="60.70" y1="373.70" x2="60.70" y2="375.00" stroke="#555" stroke-width="0.5"/>
<line x1="62.86" y1="373.70" x2="62.86" y2="375.00" stroke="#555" stroke-width="0.5"/>
<line x1="64.30" y1="373.70" x2="64.30" y2="375.00" stroke="#555" stroke-width="0.5"/>
<line x1="65.50" y1="373.70" x2="65.50" y2="375.00" stroke="#555" stroke-width="0.5"/>
<line x1="66.46" y1="373.70" x2="66.46" y2="375.00" stroke="#555" stroke-width="0.5"/>
<line x1="67.30" y1="373.70" x2="67.30" y2="375.00" stroke="#555" stroke-width="0.5"/>
<line x1="67.90" y1="373.70" x2="67.90" y2="375.00" stroke="#555" stroke-width="0.5"/>
<line x1="68.50" y1="373.70" x2="68.50" y2="375.00" stroke="#555" stroke-width="0.5"/>
<line x1="72.70" y1="373.70" x2="72.70" y2="375.00" stroke="#555" stroke-width="0.5"/>
<line x1="74.86" y1="373.70" x2="74.86" y2="375.00" stroke="#555" stroke-width="0.5"/>
<line x1="76.30" y1="373.70" x2="76.30" y2="375.00" stroke="#555" stroke-width="0.5"/>
<line x1="77.50" y1="373.70" x2="77.50" y2="375.00" stroke="#555" stroke-width="0.5"/>
<line x1="78.46" y1="373.70" x2="78.46" y2="375.00" stroke="#555" stroke-width="0.5"/>
<line x1="79.30" y1="373.70" x2="79.30" y2="375.00" stroke="#555" stroke-width="0.5"/>
<line x1="79.90" y1="373.70" x2="79.90" y2="375.00" stroke="#555" stroke-width="0.5"/>
<line x1="80.50" y1="373.70" x2="80.50" y2="375.00" stroke="#555" stroke-width="0.5"/>
<line x1="84.70" y1="373.70" x2="84.70" y2="375.00" stroke="#555" stroke-width="0.5"/>
<line x1="86.86" y1="373.70" x2="86.86" y2="375.00" stroke="#555" stroke-width="0.5"/>
<line x1="88.30" y1="373.70" x2="88.30" y2="375.00" stroke="#555" stroke-width="0.5"/>
<line x1="89.50" y1="373.70" x2="89.50" y2="375.00" stroke="#555" stroke-width="0.5"/>
<line x1="90.46" y1="373.70" x2="90.46" y2="375.00" stroke="#555" stroke-width="0.5"/>
<line x1="91.30" y1="373.70" x2="91.30" y2="375.00" stroke="#555" stroke-width="0.5"/>
<line x1="91.90" y1="373.70" x2="91.90" y2="375.00" stroke="#555" stroke-width="0.5"/>
<line x1="92.50" y1="373.70" x2="92.50" y2="375.00" stroke="#555" stroke-width="0.5"/>
<line x1="96.70" y1="373.70" x2="96.70" y2="375.00" stroke="#555" stroke-width="0.5"/>
<line x1="98.86" y1="373.70" x2="98.86" y2="375.00" stroke="#555" stroke-width="0.5"/>
<line x1="100.30" y1="373.70" x2="100.30" y2="375.00" stroke="#555" stroke-width="0.5"/>
<line x1="101.50" y1="373.70" x2="101.50" y2="375.00" stroke="#555" stroke-width="0.5"/>
<line x1="102.46" y1="373.70" x2="102.46" y2="375.00" stroke="#555" stroke-width="0.5"/>
<line x1="103.30" y1="373.70" x2="103.30" y2="375.00" stroke="#555" stroke-width="0.5"/>
<line x1="103.90" y1="373.70" x2="103.90" y2="375.00" stroke="#555" stroke-width="0.5"/>
<line x1="104.50" y1="373.70" x2="104.50" y2="375.00" stroke="#555" stroke-width="0.5"/>
<text x="78.10" y="398.44" font-size="10.4" text-anchor="middle" textLength="76.5" lengthAdjust="spacingAndGlyphs" stroke="#1e1e1e" stroke-width="0.15">Comp-BV650-A :: CD86</text>
<text x="26.90" y="348.97" font-size="10.2" text-anchor="middle" textLength="65.5" lengthAdjust="spacingAndGlyphs" transform="rotate(-90 26.90 345.30)" stroke="#1e1e1e" stroke-width="0.15">Comp-PE-A :: CD206</text>
<path d="M162.90 348.44 C163.26 346.02 164.47 342.37 166.51 340.13 C168.56 337.89 172.53 336.05 175.18 335.01 C177.83 333.97 180.00 333.16 182.41 333.90 C184.82 334.64 188.07 337.25 189.63 339.44 C191.20 341.63 192.16 344.40 191.80 347.06 C191.44 349.71 189.63 352.94 187.47 355.37 C185.30 357.79 181.56 360.91 178.80 361.60 C176.03 362.29 173.26 360.68 170.85 359.52 C168.44 358.37 165.67 356.52 164.35 354.68 C163.02 352.83 162.54 350.87 162.90 348.44 Z" fill="url(#g2)" stroke="#c8c8c8" stroke-width="0.6"/>
<path d="M167.45 347.75 C167.71 346.00 168.57 343.38 170.05 341.77 C171.52 340.15 174.38 338.82 176.29 338.08 C178.20 337.33 179.76 336.75 181.49 337.28 C183.23 337.81 185.57 339.69 186.69 341.27 C187.82 342.85 188.51 344.84 188.25 346.75 C187.99 348.66 186.69 350.99 185.13 352.73 C183.57 354.48 180.88 356.72 178.89 357.22 C176.90 357.72 174.90 356.56 173.17 355.73 C171.43 354.90 169.44 353.57 168.49 352.24 C167.53 350.91 167.19 349.49 167.45 347.75 Z" fill="none" stroke="#c2c2c2" stroke-width="0.5"/>
<path d="M171.65 347.26 C171.81 346.17 172.35 344.53 173.27 343.52 C174.19 342.51 175.98 341.68 177.17 341.22 C178.37 340.75 179.34 340.39 180.43 340.72 C181.51 341.05 182.97 342.22 183.68 343.21 C184.38 344.20 184.82 345.44 184.65 346.64 C184.49 347.83 183.68 349.29 182.70 350.38 C181.73 351.47 180.05 352.87 178.80 353.18 C177.55 353.49 176.31 352.77 175.22 352.25 C174.14 351.73 172.89 350.90 172.30 350.07 C171.70 349.24 171.48 348.35 171.65 347.26 Z" fill="none" stroke="#b5b5b5" stroke-width="0.5"/>
<ellipse cx="179.50" cy="346.50" rx="1.8" ry="1.1" fill="#f6f6f6"/>
<line x1="179.20" y1="316.00" x2="179.20" y2="373.70" stroke="#5a5a5a" stroke-width="1.0"/>
<line x1="156.80" y1="349.50" x2="216.50" y2="349.50" stroke="#5a5a5a" stroke-width="1.0"/>
<rect x="156.80" y="316.00" width="59.70" height="57.70" fill="none" stroke="#1e1e1e" stroke-width="1.1"/>
<text x="186.20" y="311.89" font-size="8.3" text-anchor="middle" font-weight="bold" fill="#000" textLength="31.2" lengthAdjust="spacingAndGlyphs" stroke="#000" stroke-width="0.05">TAK-981</text>
<text x="158.60" y="324.48" font-size="8.0" stroke="#1e1e1e" stroke-width="0.15">35.5</text>
<text x="214.20" y="324.48" font-size="8.0" text-anchor="end" stroke="#1e1e1e" stroke-width="0.15">29.1</text>
<text x="158.60" y="371.28" font-size="8.0" stroke="#1e1e1e" stroke-width="0.15">24.8</text>
<text x="214.20" y="371.28" font-size="8.0" text-anchor="end" stroke="#1e1e1e" stroke-width="0.15">10.6</text>
<text x="152.80" y="325.09" font-size="8.3" text-anchor="end" textLength="11.4" lengthAdjust="spacingAndGlyphs" stroke="#1e1e1e" stroke-width="0.15">10<tspan dy="-3.65" font-size="6.14">5</tspan></text>
<line x1="154.20" y1="321.50" x2="156.80" y2="321.50" stroke="#222" stroke-width="0.8"/>
<text x="152.80" y="336.79" font-size="8.3" text-anchor="end" textLength="11.4" lengthAdjust="spacingAndGlyphs" stroke="#1e1e1e" stroke-width="0.15">10<tspan dy="-3.65" font-size="6.14">4</tspan></text>
<line x1="154.20" y1="333.20" x2="156.80" y2="333.20" stroke="#222" stroke-width="0.8"/>
<text x="152.80" y="348.49" font-size="8.3" text-anchor="end" textLength="11.4" lengthAdjust="spacingAndGlyphs" stroke="#1e1e1e" stroke-width="0.15">10<tspan dy="-3.65" font-size="6.14">3</tspan></text>
<line x1="154.20" y1="344.90" x2="156.80" y2="344.90" stroke="#222" stroke-width="0.8"/>
<text x="152.80" y="360.19" font-size="8.3" text-anchor="end" textLength="11.4" lengthAdjust="spacingAndGlyphs" stroke="#1e1e1e" stroke-width="0.15">10<tspan dy="-3.65" font-size="6.14">2</tspan></text>
<line x1="154.20" y1="356.60" x2="156.80" y2="356.60" stroke="#222" stroke-width="0.8"/>
<text x="152.80" y="371.89" font-size="8.3" text-anchor="end" textLength="11.4" lengthAdjust="spacingAndGlyphs" stroke="#1e1e1e" stroke-width="0.15">10<tspan dy="-3.65" font-size="6.14">1</tspan></text>
<line x1="154.20" y1="368.30" x2="156.80" y2="368.30" stroke="#222" stroke-width="0.8"/>
<line x1="155.50" y1="329.69" x2="156.80" y2="329.69" stroke="#555" stroke-width="0.5"/>
<line x1="155.50" y1="327.58" x2="156.80" y2="327.58" stroke="#555" stroke-width="0.5"/>
<line x1="155.50" y1="326.18" x2="156.80" y2="326.18" stroke="#555" stroke-width="0.5"/>
<line x1="155.50" y1="325.01" x2="156.80" y2="325.01" stroke="#555" stroke-width="0.5"/>
<line x1="155.50" y1="324.07" x2="156.80" y2="324.07" stroke="#555" stroke-width="0.5"/>
<line x1="155.50" y1="323.25" x2="156.80" y2="323.25" stroke="#555" stroke-width="0.5"/>
<line x1="155.50" y1="322.67" x2="156.80" y2="322.67" stroke="#555" stroke-width="0.5"/>
<line x1="155.50" y1="322.08" x2="156.80" y2="322.08" stroke="#555" stroke-width="0.5"/>
<line x1="155.50" y1="341.39" x2="156.80" y2="341.39" stroke="#555" stroke-width="0.5"/>
<line x1="155.50" y1="339.28" x2="156.80" y2="339.28" stroke="#555" stroke-width="0.5"/>
<line x1="155.50" y1="337.88" x2="156.80" y2="337.88" stroke="#555" stroke-width="0.5"/>
<line x1="155.50" y1="336.71" x2="156.80" y2="336.71" stroke="#555" stroke-width="0.5"/>
<line x1="155.50" y1="335.77" x2="156.80" y2="335.77" stroke="#555" stroke-width="0.5"/>
<line x1="155.50" y1="334.95" x2="156.80" y2="334.95" stroke="#555" stroke-width="0.5"/>
<line x1="155.50" y1="334.37" x2="156.80" y2="334.37" stroke="#555" stroke-width="0.5"/>
<line x1="155.50" y1="333.78" x2="156.80" y2="333.78" stroke="#555" stroke-width="0.5"/>
<line x1="155.50" y1="353.09" x2="156.80" y2="353.09" stroke="#555" stroke-width="0.5"/>
<line x1="155.50" y1="350.98" x2="156.80" y2="350.98" stroke="#555" stroke-width="0.5"/>
<line x1="155.50" y1="349.58" x2="156.80" y2="349.58" stroke="#555" stroke-width="0.5"/>
<line x1="155.50" y1="348.41" x2="156.80" y2="348.41" stroke="#555" stroke-width="0.5"/>
<line x1="155.50" y1="347.47" x2="156.80" y2="347.47" stroke="#555" stroke-width="0.5"/>
<line x1="155.50" y1="346.66" x2="156.80" y2="346.66" stroke="#555" stroke-width="0.5"/>
<line x1="155.50" y1="346.07" x2="156.80" y2="346.07" stroke="#555" stroke-width="0.5"/>
<line x1="155.50" y1="345.49" x2="156.80" y2="345.49" stroke="#555" stroke-width="0.5"/>
<line x1="155.50" y1="364.79" x2="156.80" y2="364.79" stroke="#555" stroke-width="0.5"/>
<line x1="155.50" y1="362.68" x2="156.80" y2="362.68" stroke="#555" stroke-width="0.5"/>
<line x1="155.50" y1="361.28" x2="156.80" y2="361.28" stroke="#555" stroke-width="0.5"/>
<line x1="155.50" y1="360.11" x2="156.80" y2="360.11" stroke="#555" stroke-width="0.5"/>
<line x1="155.50" y1="359.17" x2="156.80" y2="359.17" stroke="#555" stroke-width="0.5"/>
<line x1="155.50" y1="358.36" x2="156.80" y2="358.36" stroke="#555" stroke-width="0.5"/>
<line x1="155.50" y1="357.77" x2="156.80" y2="357.77" stroke="#555" stroke-width="0.5"/>
<line x1="155.50" y1="357.19" x2="156.80" y2="357.19" stroke="#555" stroke-width="0.5"/>
<text x="162.40" y="386.40" font-size="8.6" text-anchor="middle" textLength="10.0" lengthAdjust="spacingAndGlyphs" stroke="#1e1e1e" stroke-width="0.15">10<tspan dy="-3.78" font-size="6.36">1</tspan></text>
<line x1="162.40" y1="373.70" x2="162.40" y2="376.30" stroke="#222" stroke-width="0.8"/>
<text x="174.40" y="386.40" font-size="8.6" text-anchor="middle" textLength="10.0" lengthAdjust="spacingAndGlyphs" stroke="#1e1e1e" stroke-width="0.15">10<tspan dy="-3.78" font-size="6.36">2</tspan></text>
<line x1="174.40" y1="373.70" x2="174.40" y2="376.30" stroke="#222" stroke-width="0.8"/>
<text x="186.40" y="386.40" font-size="8.6" text-anchor="middle" textLength="10.0" lengthAdjust="spacingAndGlyphs" stroke="#1e1e1e" stroke-width="0.15">10<tspan dy="-3.78" font-size="6.36">3</tspan></text>
<line x1="186.40" y1="373.70" x2="186.40" y2="376.30" stroke="#222" stroke-width="0.8"/>
<text x="198.40" y="386.40" font-size="8.6" text-anchor="middle" textLength="10.0" lengthAdjust="spacingAndGlyphs" stroke="#1e1e1e" stroke-width="0.15">10<tspan dy="-3.78" font-size="6.36">4</tspan></text>
<line x1="198.40" y1="373.70" x2="198.40" y2="376.30" stroke="#222" stroke-width="0.8"/>
<text x="210.40" y="386.40" font-size="8.6" text-anchor="middle" textLength="10.0" lengthAdjust="spacingAndGlyphs" stroke="#1e1e1e" stroke-width="0.15">10<tspan dy="-3.78" font-size="6.36">5</tspan></text>
<line x1="210.40" y1="373.70" x2="210.40" y2="376.30" stroke="#222" stroke-width="0.8"/>
<line x1="166.00" y1="373.70" x2="166.00" y2="375.00" stroke="#555" stroke-width="0.5"/>
<line x1="168.16" y1="373.70" x2="168.16" y2="375.00" stroke="#555" stroke-width="0.5"/>
<line x1="169.60" y1="373.70" x2="169.60" y2="375.00" stroke="#555" stroke-width="0.5"/>
<line x1="170.80" y1="373.70" x2="170.80" y2="375.00" stroke="#555" stroke-width="0.5"/>
<line x1="171.76" y1="373.70" x2="171.76" y2="375.00" stroke="#555" stroke-width="0.5"/>
<line x1="172.60" y1="373.70" x2="172.60" y2="375.00" stroke="#555" stroke-width="0.5"/>
<line x1="173.20" y1="373.70" x2="173.20" y2="375.00" stroke="#555" stroke-width="0.5"/>
<line x1="173.80" y1="373.70" x2="173.80" y2="375.00" stroke="#555" stroke-width="0.5"/>
<line x1="178.00" y1="373.70" x2="178.00" y2="375.00" stroke="#555" stroke-width="0.5"/>
<line x1="180.16" y1="373.70" x2="180.16" y2="375.00" stroke="#555" stroke-width="0.5"/>
<line x1="181.60" y1="373.70" x2="181.60" y2="375.00" stroke="#555" stroke-width="0.5"/>
<line x1="182.80" y1="373.70" x2="182.80" y2="375.00" stroke="#555" stroke-width="0.5"/>
<line x1="183.76" y1="373.70" x2="183.76" y2="375.00" stroke="#555" stroke-width="0.5"/>
<line x1="184.60" y1="373.70" x2="184.60" y2="375.00" stroke="#555" stroke-width="0.5"/>
<line x1="185.20" y1="373.70" x2="185.20" y2="375.00" stroke="#555" stroke-width="0.5"/>
<line x1="185.80" y1="373.70" x2="185.80" y2="375.00" stroke="#555" stroke-width="0.5"/>
<line x1="190.00" y1="373.70" x2="190.00" y2="375.00" stroke="#555" stroke-width="0.5"/>
<line x1="192.16" y1="373.70" x2="192.16" y2="375.00" stroke="#555" stroke-width="0.5"/>
<line x1="193.60" y1="373.70" x2="193.60" y2="375.00" stroke="#555" stroke-width="0.5"/>
<line x1="194.80" y1="373.70" x2="194.80" y2="375.00" stroke="#555" stroke-width="0.5"/>
<line x1="195.76" y1="373.70" x2="195.76" y2="375.00" stroke="#555" stroke-width="0.5"/>
<line x1="196.60" y1="373.70" x2="196.60" y2="375.00" stroke="#555" stroke-width="0.5"/>
<line x1="197.20" y1="373.70" x2="197.20" y2="375.00" stroke="#555" stroke-width="0.5"/>
<line x1="197.80" y1="373.70" x2="197.80" y2="375.00" stroke="#555" stroke-width="0.5"/>
<line x1="202.00" y1="373.70" x2="202.00" y2="375.00" stroke="#555" stroke-width="0.5"/>
<line x1="204.16" y1="373.70" x2="204.16" y2="375.00" stroke="#555" stroke-width="0.5"/>
<line x1="205.60" y1="373.70" x2="205.60" y2="375.00" stroke="#555" stroke-width="0.5"/>
<line x1="206.80" y1="373.70" x2="206.80" y2="375.00" stroke="#555" stroke-width="0.5"/>
<line x1="207.76" y1="373.70" x2="207.76" y2="375.00" stroke="#555" stroke-width="0.5"/>
<line x1="208.60" y1="373.70" x2="208.60" y2="375.00" stroke="#555" stroke-width="0.5"/>
<line x1="209.20" y1="373.70" x2="209.20" y2="375.00" stroke="#555" stroke-width="0.5"/>
<line x1="209.80" y1="373.70" x2="209.80" y2="375.00" stroke="#555" stroke-width="0.5"/>
<text x="185.30" y="398.44" font-size="10.4" text-anchor="middle" textLength="76.5" lengthAdjust="spacingAndGlyphs" stroke="#1e1e1e" stroke-width="0.15">Comp-BV650-A :: CD86</text>
<text x="132.20" y="348.97" font-size="10.2" text-anchor="middle" textLength="65.5" lengthAdjust="spacingAndGlyphs" transform="rotate(-90 132.20 345.30)" stroke="#1e1e1e" stroke-width="0.15">Comp-PE-A :: CD206</text>
<path d="M58.60 448.04 C58.93 445.98 60.05 442.89 61.95 440.99 C63.85 439.09 67.53 437.52 69.99 436.64 C72.45 435.76 74.46 435.07 76.69 435.70 C78.92 436.33 81.94 438.54 83.39 440.40 C84.84 442.26 85.74 444.61 85.40 446.86 C85.06 449.11 83.39 451.86 81.38 453.91 C79.37 455.97 75.91 458.61 73.34 459.20 C70.77 459.79 68.20 458.42 65.97 457.44 C63.74 456.46 61.17 454.89 59.94 453.32 C58.71 451.76 58.26 450.09 58.60 448.04 Z" fill="url(#g3)" stroke="#c8c8c8" stroke-width="0.6"/>
<path d="M62.85 447.37 C63.09 445.89 63.90 443.66 65.26 442.30 C66.63 440.93 69.28 439.80 71.05 439.17 C72.82 438.53 74.27 438.04 75.88 438.49 C77.48 438.94 79.66 440.53 80.70 441.87 C81.75 443.21 82.39 444.91 82.15 446.53 C81.91 448.15 80.70 450.12 79.25 451.60 C77.81 453.08 75.31 454.99 73.46 455.41 C71.62 455.83 69.77 454.85 68.16 454.14 C66.55 453.44 64.70 452.31 63.82 451.18 C62.93 450.05 62.61 448.85 62.85 447.37 Z" fill="none" stroke="#c2c2c2" stroke-width="0.5"/>
<path d="M66.77 446.91 C66.92 445.99 67.42 444.60 68.28 443.74 C69.13 442.89 70.79 442.18 71.90 441.79 C73.00 441.39 73.91 441.08 74.91 441.36 C75.92 441.64 77.27 442.64 77.93 443.48 C78.58 444.31 78.98 445.37 78.83 446.39 C78.68 447.40 77.93 448.63 77.02 449.56 C76.12 450.48 74.56 451.67 73.40 451.94 C72.25 452.20 71.09 451.58 70.09 451.14 C69.08 450.70 67.93 450.00 67.37 449.29 C66.82 448.59 66.62 447.84 66.77 446.91 Z" fill="none" stroke="#b5b5b5" stroke-width="0.5"/>
<ellipse cx="72.80" cy="446.20" rx="1.8" ry="1.1" fill="#f6f6f6"/>
<line x1="73.50" y1="417.80" x2="73.50" y2="475.50" stroke="#5a5a5a" stroke-width="1.0"/>
<line x1="51.50" y1="451.50" x2="109.30" y2="451.50" stroke="#5a5a5a" stroke-width="1.0"/>
<rect x="51.50" y="417.80" width="57.80" height="57.70" fill="none" stroke="#1e1e1e" stroke-width="1.1"/>
<text x="80.50" y="413.39" font-size="8.3" text-anchor="middle" font-weight="bold" fill="#000" textLength="36.5" lengthAdjust="spacingAndGlyphs" stroke="#000" stroke-width="0.05">Rituximab</text>
<text x="53.30" y="426.28" font-size="8.0" stroke="#1e1e1e" stroke-width="0.15">46.6</text>
<text x="107.00" y="426.28" font-size="8.0" text-anchor="end" stroke="#1e1e1e" stroke-width="0.15">36.7</text>
<text x="53.30" y="473.08" font-size="8.0" stroke="#1e1e1e" stroke-width="0.15">11.5</text>
<text x="107.00" y="473.08" font-size="8.0" text-anchor="end" stroke="#1e1e1e" stroke-width="0.15">5.20</text>
<text x="47.50" y="426.89" font-size="8.3" text-anchor="end" textLength="11.4" lengthAdjust="spacingAndGlyphs" stroke="#1e1e1e" stroke-width="0.15">10<tspan dy="-3.65" font-size="6.14">5</tspan></text>
<line x1="48.90" y1="423.30" x2="51.50" y2="423.30" stroke="#222" stroke-width="0.8"/>
<text x="47.50" y="438.59" font-size="8.3" text-anchor="end" textLength="11.4" lengthAdjust="spacingAndGlyphs" stroke="#1e1e1e" stroke-width="0.15">10<tspan dy="-3.65" font-size="6.14">4</tspan></text>
<line x1="48.90" y1="435.00" x2="51.50" y2="435.00" stroke="#222" stroke-width="0.8"/>
<text x="47.50" y="450.29" font-size="8.3" text-anchor="end" textLength="11.4" lengthAdjust="spacingAndGlyphs" stroke="#1e1e1e" stroke-width="0.15">10<tspan dy="-3.65" font-size="6.14">3</tspan></text>
<line x1="48.90" y1="446.70" x2="51.50" y2="446.70" stroke="#222" stroke-width="0.8"/>
<text x="47.50" y="461.99" font-size="8.3" text-anchor="end" textLength="11.4" lengthAdjust="spacingAndGlyphs" stroke="#1e1e1e" stroke-width="0.15">10<tspan dy="-3.65" font-size="6.14">2</tspan></text>
<line x1="48.90" y1="458.40" x2="51.50" y2="458.40" stroke="#222" stroke-width="0.8"/>
<text x="47.50" y="473.69" font-size="8.3" text-anchor="end" textLength="11.4" lengthAdjust="spacingAndGlyphs" stroke="#1e1e1e" stroke-width="0.15">10<tspan dy="-3.65" font-size="6.14">1</tspan></text>
<line x1="48.90" y1="470.10" x2="51.50" y2="470.10" stroke="#222" stroke-width="0.8"/>
<line x1="50.20" y1="431.49" x2="51.50" y2="431.49" stroke="#555" stroke-width="0.5"/>
<line x1="50.20" y1="429.38" x2="51.50" y2="429.38" stroke="#555" stroke-width="0.5"/>
<line x1="50.20" y1="427.98" x2="51.50" y2="427.98" stroke="#555" stroke-width="0.5"/>
<line x1="50.20" y1="426.81" x2="51.50" y2="426.81" stroke="#555" stroke-width="0.5"/>
<line x1="50.20" y1="425.87" x2="51.50" y2="425.87" stroke="#555" stroke-width="0.5"/>
<line x1="50.20" y1="425.06" x2="51.50" y2="425.06" stroke="#555" stroke-width="0.5"/>
<line x1="50.20" y1="424.47" x2="51.50" y2="424.47" stroke="#555" stroke-width="0.5"/>
<line x1="50.20" y1="423.88" x2="51.50" y2="423.88" stroke="#555" stroke-width="0.5"/>
<line x1="50.20" y1="443.19" x2="51.50" y2="443.19" stroke="#555" stroke-width="0.5"/>
<line x1="50.20" y1="441.08" x2="51.50" y2="441.08" stroke="#555" stroke-width="0.5"/>
<line x1="50.20" y1="439.68" x2="51.50" y2="439.68" stroke="#555" stroke-width="0.5"/>
<line x1="50.20" y1="438.51" x2="51.50" y2="438.51" stroke="#555" stroke-width="0.5"/>
<line x1="50.20" y1="437.57" x2="51.50" y2="437.57" stroke="#555" stroke-width="0.5"/>
<line x1="50.20" y1="436.75" x2="51.50" y2="436.75" stroke="#555" stroke-width="0.5"/>
<line x1="50.20" y1="436.17" x2="51.50" y2="436.17" stroke="#555" stroke-width="0.5"/>
<line x1="50.20" y1="435.58" x2="51.50" y2="435.58" stroke="#555" stroke-width="0.5"/>
<line x1="50.20" y1="454.89" x2="51.50" y2="454.89" stroke="#555" stroke-width="0.5"/>
<line x1="50.20" y1="452.78" x2="51.50" y2="452.78" stroke="#555" stroke-width="0.5"/>
<line x1="50.20" y1="451.38" x2="51.50" y2="451.38" stroke="#555" stroke-width="0.5"/>
<line x1="50.20" y1="450.21" x2="51.50" y2="450.21" stroke="#555" stroke-width="0.5"/>
<line x1="50.20" y1="449.27" x2="51.50" y2="449.27" stroke="#555" stroke-width="0.5"/>
<line x1="50.20" y1="448.45" x2="51.50" y2="448.45" stroke="#555" stroke-width="0.5"/>
<line x1="50.20" y1="447.87" x2="51.50" y2="447.87" stroke="#555" stroke-width="0.5"/>
<line x1="50.20" y1="447.28" x2="51.50" y2="447.28" stroke="#555" stroke-width="0.5"/>
<line x1="50.20" y1="466.59" x2="51.50" y2="466.59" stroke="#555" stroke-width="0.5"/>
<line x1="50.20" y1="464.48" x2="51.50" y2="464.48" stroke="#555" stroke-width="0.5"/>
<line x1="50.20" y1="463.08" x2="51.50" y2="463.08" stroke="#555" stroke-width="0.5"/>
<line x1="50.20" y1="461.91" x2="51.50" y2="461.91" stroke="#555" stroke-width="0.5"/>
<line x1="50.20" y1="460.97" x2="51.50" y2="460.97" stroke="#555" stroke-width="0.5"/>
<line x1="50.20" y1="460.16" x2="51.50" y2="460.16" stroke="#555" stroke-width="0.5"/>
<line x1="50.20" y1="459.57" x2="51.50" y2="459.57" stroke="#555" stroke-width="0.5"/>
<line x1="50.20" y1="458.99" x2="51.50" y2="458.99" stroke="#555" stroke-width="0.5"/>
<text x="57.10" y="488.20" font-size="8.6" text-anchor="middle" textLength="10.0" lengthAdjust="spacingAndGlyphs" stroke="#1e1e1e" stroke-width="0.15">10<tspan dy="-3.78" font-size="6.36">1</tspan></text>
<line x1="57.10" y1="475.50" x2="57.10" y2="478.10" stroke="#222" stroke-width="0.8"/>
<text x="69.10" y="488.20" font-size="8.6" text-anchor="middle" textLength="10.0" lengthAdjust="spacingAndGlyphs" stroke="#1e1e1e" stroke-width="0.15">10<tspan dy="-3.78" font-size="6.36">2</tspan></text>
<line x1="69.10" y1="475.50" x2="69.10" y2="478.10" stroke="#222" stroke-width="0.8"/>
<text x="81.10" y="488.20" font-size="8.6" text-anchor="middle" textLength="10.0" lengthAdjust="spacingAndGlyphs" stroke="#1e1e1e" stroke-width="0.15">10<tspan dy="-3.78" font-size="6.36">3</tspan></text>
<line x1="81.10" y1="475.50" x2="81.10" y2="478.10" stroke="#222" stroke-width="0.8"/>
<text x="93.10" y="488.20" font-size="8.6" text-anchor="middle" textLength="10.0" lengthAdjust="spacingAndGlyphs" stroke="#1e1e1e" stroke-width="0.15">10<tspan dy="-3.78" font-size="6.36">4</tspan></text>
<line x1="93.10" y1="475.50" x2="93.10" y2="478.10" stroke="#222" stroke-width="0.8"/>
<text x="105.10" y="488.20" font-size="8.6" text-anchor="middle" textLength="10.0" lengthAdjust="spacingAndGlyphs" stroke="#1e1e1e" stroke-width="0.15">10<tspan dy="-3.78" font-size="6.36">5</tspan></text>
<line x1="105.10" y1="475.50" x2="105.10" y2="478.10" stroke="#222" stroke-width="0.8"/>
<line x1="60.70" y1="475.50" x2="60.70" y2="476.80" stroke="#555" stroke-width="0.5"/>
<line x1="62.86" y1="475.50" x2="62.86" y2="476.80" stroke="#555" stroke-width="0.5"/>
<line x1="64.30" y1="475.50" x2="64.30" y2="476.80" stroke="#555" stroke-width="0.5"/>
<line x1="65.50" y1="475.50" x2="65.50" y2="476.80" stroke="#555" stroke-width="0.5"/>
<line x1="66.46" y1="475.50" x2="66.46" y2="476.80" stroke="#555" stroke-width="0.5"/>
<line x1="67.30" y1="475.50" x2="67.30" y2="476.80" stroke="#555" stroke-width="0.5"/>
<line x1="67.90" y1="475.50" x2="67.90" y2="476.80" stroke="#555" stroke-width="0.5"/>
<line x1="68.50" y1="475.50" x2="68.50" y2="476.80" stroke="#555" stroke-width="0.5"/>
<line x1="72.70" y1="475.50" x2="72.70" y2="476.80" stroke="#555" stroke-width="0.5"/>
<line x1="74.86" y1="475.50" x2="74.86" y2="476.80" stroke="#555" stroke-width="0.5"/>
<line x1="76.30" y1="475.50" x2="76.30" y2="476.80" stroke="#555" stroke-width="0.5"/>
<line x1="77.50" y1="475.50" x2="77.50" y2="476.80" stroke="#555" stroke-width="0.5"/>
<line x1="78.46" y1="475.50" x2="78.46" y2="476.80" stroke="#555" stroke-width="0.5"/>
<line x1="79.30" y1="475.50" x2="79.30" y2="476.80" stroke="#555" stroke-width="0.5"/>
<line x1="79.90" y1="475.50" x2="79.90" y2="476.80" stroke="#555" stroke-width="0.5"/>
<line x1="80.50" y1="475.50" x2="80.50" y2="476.80" stroke="#555" stroke-width="0.5"/>
<line x1="84.70" y1="475.50" x2="84.70" y2="476.80" stroke="#555" stroke-width="0.5"/>
<line x1="86.86" y1="475.50" x2="86.86" y2="476.80" stroke="#555" stroke-width="0.5"/>
<line x1="88.30" y1="475.50" x2="88.30" y2="476.80" stroke="#555" stroke-width="0.5"/>
<line x1="89.50" y1="475.50" x2="89.50" y2="476.80" stroke="#555" stroke-width="0.5"/>
<line x1="90.46" y1="475.50" x2="90.46" y2="476.80" stroke="#555" stroke-width="0.5"/>
<line x1="91.30" y1="475.50" x2="91.30" y2="476.80" stroke="#555" stroke-width="0.5"/>
<line x1="91.90" y1="475.50" x2="91.90" y2="476.80" stroke="#555" stroke-width="0.5"/>
<line x1="92.50" y1="475.50" x2="92.50" y2="476.80" stroke="#555" stroke-width="0.5"/>
<line x1="96.70" y1="475.50" x2="96.70" y2="476.80" stroke="#555" stroke-width="0.5"/>
<line x1="98.86" y1="475.50" x2="98.86" y2="476.80" stroke="#555" stroke-width="0.5"/>
<line x1="100.30" y1="475.50" x2="100.30" y2="476.80" stroke="#555" stroke-width="0.5"/>
<line x1="101.50" y1="475.50" x2="101.50" y2="476.80" stroke="#555" stroke-width="0.5"/>
<line x1="102.46" y1="475.50" x2="102.46" y2="476.80" stroke="#555" stroke-width="0.5"/>
<line x1="103.30" y1="475.50" x2="103.30" y2="476.80" stroke="#555" stroke-width="0.5"/>
<line x1="103.90" y1="475.50" x2="103.90" y2="476.80" stroke="#555" stroke-width="0.5"/>
<line x1="104.50" y1="475.50" x2="104.50" y2="476.80" stroke="#555" stroke-width="0.5"/>
<text x="78.10" y="500.24" font-size="10.4" text-anchor="middle" textLength="76.5" lengthAdjust="spacingAndGlyphs" stroke="#1e1e1e" stroke-width="0.15">Comp-BV650-A :: CD86</text>
<text x="26.90" y="450.77" font-size="10.2" text-anchor="middle" textLength="65.5" lengthAdjust="spacingAndGlyphs" transform="rotate(-90 26.90 447.10)" stroke="#1e1e1e" stroke-width="0.15">Comp-PE-A :: CD206</text>
<path d="M163.80 451.18 C164.18 448.81 165.43 445.26 167.55 443.07 C169.68 440.89 173.80 439.09 176.55 438.08 C179.30 437.07 181.55 436.28 184.05 437.00 C186.55 437.72 189.93 440.26 191.55 442.40 C193.18 444.54 194.18 447.24 193.80 449.82 C193.43 452.41 191.55 455.56 189.30 457.93 C187.05 460.29 183.18 463.32 180.30 464.00 C177.43 464.68 174.55 463.10 172.05 461.98 C169.55 460.85 166.68 459.05 165.30 457.25 C163.93 455.45 163.43 453.54 163.80 451.18 Z" fill="url(#g4)" stroke="#c8c8c8" stroke-width="0.6"/>
<path d="M168.50 450.49 C168.77 448.78 169.67 446.23 171.20 444.65 C172.73 443.08 175.70 441.79 177.68 441.06 C179.66 440.33 181.28 439.76 183.08 440.28 C184.88 440.80 187.31 442.63 188.48 444.17 C189.65 445.71 190.37 447.65 190.10 449.51 C189.83 451.38 188.48 453.64 186.86 455.35 C185.24 457.05 182.45 459.23 180.38 459.72 C178.31 460.21 176.24 459.07 174.44 458.26 C172.64 457.45 170.57 456.16 169.58 454.86 C168.59 453.56 168.23 452.19 168.50 450.49 Z" fill="none" stroke="#c2c2c2" stroke-width="0.5"/>
<path d="M172.85 450.00 C173.02 448.94 173.58 447.34 174.54 446.36 C175.49 445.38 177.35 444.57 178.59 444.11 C179.83 443.66 180.84 443.30 181.96 443.62 C183.09 443.95 184.61 445.09 185.34 446.06 C186.07 447.02 186.52 448.23 186.35 449.40 C186.18 450.56 185.34 451.98 184.33 453.04 C183.31 454.10 181.57 455.47 180.28 455.77 C178.98 456.08 177.69 455.37 176.56 454.86 C175.44 454.36 174.14 453.55 173.53 452.74 C172.91 451.93 172.68 451.07 172.85 450.00 Z" fill="none" stroke="#b5b5b5" stroke-width="0.5"/>
<ellipse cx="178.00" cy="447.50" rx="1.8" ry="1.1" fill="#f6f6f6"/>
<line x1="178.50" y1="418.00" x2="178.50" y2="475.70" stroke="#5a5a5a" stroke-width="1.0"/>
<line x1="156.80" y1="450.50" x2="216.50" y2="450.50" stroke="#5a5a5a" stroke-width="1.0"/>
<rect x="156.80" y="418.00" width="59.70" height="57.70" fill="none" stroke="#1e1e1e" stroke-width="1.1"/>
<text x="185.80" y="413.39" font-size="8.3" text-anchor="middle" font-weight="bold" fill="#000" textLength="74.4" lengthAdjust="spacingAndGlyphs" stroke="#000" stroke-width="0.05">TAK-981/Rituximab</text>
<text x="158.60" y="426.48" font-size="8.0" stroke="#1e1e1e" stroke-width="0.15">26.8</text>
<text x="214.20" y="426.48" font-size="8.0" text-anchor="end" stroke="#1e1e1e" stroke-width="0.15">33.1</text>
<text x="158.60" y="473.28" font-size="8.0" stroke="#1e1e1e" stroke-width="0.15">25.1</text>
<text x="214.20" y="473.28" font-size="8.0" text-anchor="end" stroke="#1e1e1e" stroke-width="0.15">15.1</text>
<text x="152.80" y="427.09" font-size="8.3" text-anchor="end" textLength="11.4" lengthAdjust="spacingAndGlyphs" stroke="#1e1e1e" stroke-width="0.15">10<tspan dy="-3.65" font-size="6.14">5</tspan></text>
<line x1="154.20" y1="423.50" x2="156.80" y2="423.50" stroke="#222" stroke-width="0.8"/>
<text x="152.80" y="438.79" font-size="8.3" text-anchor="end" textLength="11.4" lengthAdjust="spacingAndGlyphs" stroke="#1e1e1e" stroke-width="0.15">10<tspan dy="-3.65" font-size="6.14">4</tspan></text>
<line x1="154.20" y1="435.20" x2="156.80" y2="435.20" stroke="#222" stroke-width="0.8"/>
<text x="152.80" y="450.49" font-size="8.3" text-anchor="end" textLength="11.4" lengthAdjust="spacingAndGlyphs" stroke="#1e1e1e" stroke-width="0.15">10<tspan dy="-3.65" font-size="6.14">3</tspan></text>
<line x1="154.20" y1="446.90" x2="156.80" y2="446.90" stroke="#222" stroke-width="0.8"/>
<text x="152.80" y="462.19" font-size="8.3" text-anchor="end" textLength="11.4" lengthAdjust="spacingAndGlyphs" stroke="#1e1e1e" stroke-width="0.15">10<tspan dy="-3.65" font-size="6.14">2</tspan></text>
<line x1="154.20" y1="458.60" x2="156.80" y2="458.60" stroke="#222" stroke-width="0.8"/>
<text x="152.80" y="473.89" font-size="8.3" text-anchor="end" textLength="11.4" lengthAdjust="spacingAndGlyphs" stroke="#1e1e1e" stroke-width="0.15">10<tspan dy="-3.65" font-size="6.14">1</tspan></text>
<line x1="154.20" y1="470.30" x2="156.80" y2="470.30" stroke="#222" stroke-width="0.8"/>
<line x1="155.50" y1="431.69" x2="156.80" y2="431.69" stroke="#555" stroke-width="0.5"/>
<line x1="155.50" y1="429.58" x2="156.80" y2="429.58" stroke="#555" stroke-width="0.5"/>
<line x1="155.50" y1="428.18" x2="156.80" y2="428.18" stroke="#555" stroke-width="0.5"/>
<line x1="155.50" y1="427.01" x2="156.80" y2="427.01" stroke="#555" stroke-width="0.5"/>
<line x1="155.50" y1="426.07" x2="156.80" y2="426.07" stroke="#555" stroke-width="0.5"/>
<line x1="155.50" y1="425.25" x2="156.80" y2="425.25" stroke="#555" stroke-width="0.5"/>
<line x1="155.50" y1="424.67" x2="156.80" y2="424.67" stroke="#555" stroke-width="0.5"/>
<line x1="155.50" y1="424.08" x2="156.80" y2="424.08" stroke="#555" stroke-width="0.5"/>
<line x1="155.50" y1="443.39" x2="156.80" y2="443.39" stroke="#555" stroke-width="0.5"/>
<line x1="155.50" y1="441.28" x2="156.80" y2="441.28" stroke="#555" stroke-width="0.5"/>
<line x1="155.50" y1="439.88" x2="156.80" y2="439.88" stroke="#555" stroke-width="0.5"/>
<line x1="155.50" y1="438.71" x2="156.80" y2="438.71" stroke="#555" stroke-width="0.5"/>
<line x1="155.50" y1="437.77" x2="156.80" y2="437.77" stroke="#555" stroke-width="0.5"/>
<line x1="155.50" y1="436.95" x2="156.80" y2="436.95" stroke="#555" stroke-width="0.5"/>
<line x1="155.50" y1="436.37" x2="156.80" y2="436.37" stroke="#555" stroke-width="0.5"/>
<line x1="155.50" y1="435.78" x2="156.80" y2="435.78" stroke="#555" stroke-width="0.5"/>
<line x1="155.50" y1="455.09" x2="156.80" y2="455.09" stroke="#555" stroke-width="0.5"/>
<line x1="155.50" y1="452.98" x2="156.80" y2="452.98" stroke="#555" stroke-width="0.5"/>
<line x1="155.50" y1="451.58" x2="156.80" y2="451.58" stroke="#555" stroke-width="0.5"/>
<line x1="155.50" y1="450.41" x2="156.80" y2="450.41" stroke="#555" stroke-width="0.5"/>
<line x1="155.50" y1="449.47" x2="156.80" y2="449.47" stroke="#555" stroke-width="0.5"/>
<line x1="155.50" y1="448.66" x2="156.80" y2="448.66" stroke="#555" stroke-width="0.5"/>
<line x1="155.50" y1="448.07" x2="156.80" y2="448.07" stroke="#555" stroke-width="0.5"/>
<line x1="155.50" y1="447.49" x2="156.80" y2="447.49" stroke="#555" stroke-width="0.5"/>
<line x1="155.50" y1="466.79" x2="156.80" y2="466.79" stroke="#555" stroke-width="0.5"/>
<line x1="155.50" y1="464.68" x2="156.80" y2="464.68" stroke="#555" stroke-width="0.5"/>
<line x1="155.50" y1="463.28" x2="156.80" y2="463.28" stroke="#555" stroke-width="0.5"/>
<line x1="155.50" y1="462.11" x2="156.80" y2="462.11" stroke="#555" stroke-width="0.5"/>
<line x1="155.50" y1="461.17" x2="156.80" y2="461.17" stroke="#555" stroke-width="0.5"/>
<line x1="155.50" y1="460.36" x2="156.80" y2="460.36" stroke="#555" stroke-width="0.5"/>
<line x1="155.50" y1="459.77" x2="156.80" y2="459.77" stroke="#555" stroke-width="0.5"/>
<line x1="155.50" y1="459.19" x2="156.80" y2="459.19" stroke="#555" stroke-width="0.5"/>
<text x="162.40" y="488.40" font-size="8.6" text-anchor="middle" textLength="10.0" lengthAdjust="spacingAndGlyphs" stroke="#1e1e1e" stroke-width="0.15">10<tspan dy="-3.78" font-size="6.36">1</tspan></text>
<line x1="162.40" y1="475.70" x2="162.40" y2="478.30" stroke="#222" stroke-width="0.8"/>
<text x="174.40" y="488.40" font-size="8.6" text-anchor="middle" textLength="10.0" lengthAdjust="spacingAndGlyphs" stroke="#1e1e1e" stroke-width="0.15">10<tspan dy="-3.78" font-size="6.36">2</tspan></text>
<line x1="174.40" y1="475.70" x2="174.40" y2="478.30" stroke="#222" stroke-width="0.8"/>
<text x="186.40" y="488.40" font-size="8.6" text-anchor="middle" textLength="10.0" lengthAdjust="spacingAndGlyphs" stroke="#1e1e1e" stroke-width="0.15">10<tspan dy="-3.78" font-size="6.36">3</tspan></text>
<line x1="186.40" y1="475.70" x2="186.40" y2="478.30" stroke="#222" stroke-width="0.8"/>
<text x="198.40" y="488.40" font-size="8.6" text-anchor="middle" textLength="10.0" lengthAdjust="spacingAndGlyphs" stroke="#1e1e1e" stroke-width="0.15">10<tspan dy="-3.78" font-size="6.36">4</tspan></text>
<line x1="198.40" y1="475.70" x2="198.40" y2="478.30" stroke="#222" stroke-width="0.8"/>
<text x="210.40" y="488.40" font-size="8.6" text-anchor="middle" textLength="10.0" lengthAdjust="spacingAndGlyphs" stroke="#1e1e1e" stroke-width="0.15">10<tspan dy="-3.78" font-size="6.36">5</tspan></text>
<line x1="210.40" y1="475.70" x2="210.40" y2="478.30" stroke="#222" stroke-width="0.8"/>
<line x1="166.00" y1="475.70" x2="166.00" y2="477.00" stroke="#555" stroke-width="0.5"/>
<line x1="168.16" y1="475.70" x2="168.16" y2="477.00" stroke="#555" stroke-width="0.5"/>
<line x1="169.60" y1="475.70" x2="169.60" y2="477.00" stroke="#555" stroke-width="0.5"/>
<line x1="170.80" y1="475.70" x2="170.80" y2="477.00" stroke="#555" stroke-width="0.5"/>
<line x1="171.76" y1="475.70" x2="171.76" y2="477.00" stroke="#555" stroke-width="0.5"/>
<line x1="172.60" y1="475.70" x2="172.60" y2="477.00" stroke="#555" stroke-width="0.5"/>
<line x1="173.20" y1="475.70" x2="173.20" y2="477.00" stroke="#555" stroke-width="0.5"/>
<line x1="173.80" y1="475.70" x2="173.80" y2="477.00" stroke="#555" stroke-width="0.5"/>
<line x1="178.00" y1="475.70" x2="178.00" y2="477.00" stroke="#555" stroke-width="0.5"/>
<line x1="180.16" y1="475.70" x2="180.16" y2="477.00" stroke="#555" stroke-width="0.5"/>
<line x1="181.60" y1="475.70" x2="181.60" y2="477.00" stroke="#555" stroke-width="0.5"/>
<line x1="182.80" y1="475.70" x2="182.80" y2="477.00" stroke="#555" stroke-width="0.5"/>
<line x1="183.76" y1="475.70" x2="183.76" y2="477.00" stroke="#555" stroke-width="0.5"/>
<line x1="184.60" y1="475.70" x2="184.60" y2="477.00" stroke="#555" stroke-width="0.5"/>
<line x1="185.20" y1="475.70" x2="185.20" y2="477.00" stroke="#555" stroke-width="0.5"/>
<line x1="185.80" y1="475.70" x2="185.80" y2="477.00" stroke="#555" stroke-width="0.5"/>
<line x1="190.00" y1="475.70" x2="190.00" y2="477.00" stroke="#555" stroke-width="0.5"/>
<line x1="192.16" y1="475.70" x2="192.16" y2="477.00" stroke="#555" stroke-width="0.5"/>
<line x1="193.60" y1="475.70" x2="193.60" y2="477.00" stroke="#555" stroke-width="0.5"/>
<line x1="194.80" y1="475.70" x2="194.80" y2="477.00" stroke="#555" stroke-width="0.5"/>
<line x1="195.76" y1="475.70" x2="195.76" y2="477.00" stroke="#555" stroke-width="0.5"/>
<line x1="196.60" y1="475.70" x2="196.60" y2="477.00" stroke="#555" stroke-width="0.5"/>
<line x1="197.20" y1="475.70" x2="197.20" y2="477.00" stroke="#555" stroke-width="0.5"/>
<line x1="197.80" y1="475.70" x2="197.80" y2="477.00" stroke="#555" stroke-width="0.5"/>
<line x1="202.00" y1="475.70" x2="202.00" y2="477.00" stroke="#555" stroke-width="0.5"/>
<line x1="204.16" y1="475.70" x2="204.16" y2="477.00" stroke="#555" stroke-width="0.5"/>
<line x1="205.60" y1="475.70" x2="205.60" y2="477.00" stroke="#555" stroke-width="0.5"/>
<line x1="206.80" y1="475.70" x2="206.80" y2="477.00" stroke="#555" stroke-width="0.5"/>
<line x1="207.76" y1="475.70" x2="207.76" y2="477.00" stroke="#555" stroke-width="0.5"/>
<line x1="208.60" y1="475.70" x2="208.60" y2="477.00" stroke="#555" stroke-width="0.5"/>
<line x1="209.20" y1="475.70" x2="209.20" y2="477.00" stroke="#555" stroke-width="0.5"/>
<line x1="209.80" y1="475.70" x2="209.80" y2="477.00" stroke="#555" stroke-width="0.5"/>
<text x="185.30" y="500.44" font-size="10.4" text-anchor="middle" textLength="76.5" lengthAdjust="spacingAndGlyphs" stroke="#1e1e1e" stroke-width="0.15">Comp-BV650-A :: CD86</text>
<text x="132.20" y="450.97" font-size="10.2" text-anchor="middle" textLength="65.5" lengthAdjust="spacingAndGlyphs" transform="rotate(-90 132.20 447.30)" stroke="#1e1e1e" stroke-width="0.15">Comp-PE-A :: CD206</text>
<path d="M62.20 556.84 C62.20 548.20 64.38 542.80 67.28 542.80 C73.80 542.80 76.70 548.74 76.70 556.84 C76.70 564.94 73.80 569.80 67.28 569.80 C64.38 569.80 62.20 564.40 62.20 556.84 Z" fill="url(#lg1)" stroke="#cdcdcd" stroke-width="0.6"/>
<path d="M63.36 556.99 C63.36 550.25 65.03 546.04 67.27 546.04 C72.29 546.04 74.53 550.67 74.53 556.99 C74.53 563.31 72.29 567.10 67.27 567.10 C65.03 567.10 63.36 562.89 63.36 556.99 Z" fill="none" stroke="#d2d2d2" stroke-width="0.5"/>
<path d="M63.94 557.27 C63.94 552.52 65.09 549.55 66.63 549.55 C70.09 549.55 71.62 552.82 71.62 557.27 C71.62 561.73 70.09 564.40 66.63 564.40 C65.09 564.40 63.94 561.43 63.94 557.27 Z" fill="none" stroke="#c8c8c8" stroke-width="0.5"/>
<ellipse cx="64.50" cy="557.50" rx="2.90" ry="12.50" fill="url(#g5)"/>
<ellipse cx="66.20" cy="558.40" rx="0.70" ry="2.40" fill="#f6f6f6"/>
<line x1="68.40" y1="534.90" x2="68.40" y2="572.40" stroke="#6a6a6a" stroke-width="0.9"/>
<line x1="98.50" y1="534.90" x2="98.50" y2="572.40" stroke="#6a6a6a" stroke-width="0.9"/>
<line x1="68.40" y1="572.40" x2="98.50" y2="572.40" stroke="#6a6a6a" stroke-width="0.9"/>
<line x1="68.40" y1="534.90" x2="74.65" y2="534.90" stroke="#6a6a6a" stroke-width="0.9"/>
<line x1="92.25" y1="534.90" x2="98.50" y2="534.90" stroke="#6a6a6a" stroke-width="0.9"/>
<text x="83.45" y="528.62" font-size="7.0" text-anchor="middle" fill="#2a2a2a" textLength="24" lengthAdjust="spacingAndGlyphs" stroke="#2a2a2a" stroke-width="0.15">FCGR4+</text>
<text x="83.45" y="537.76" font-size="7.4" text-anchor="middle" fill="#2a2a2a" stroke="#2a2a2a" stroke-width="0.15">30.8</text>
<rect x="51.50" y="521.50" width="58.50" height="57.80" fill="none" stroke="#1e1e1e" stroke-width="1.1"/>
<text x="81.50" y="517.99" font-size="8.3" text-anchor="middle" font-weight="bold" fill="#000" textLength="27.7" lengthAdjust="spacingAndGlyphs" stroke="#000" stroke-width="0.05">Control</text>
<text x="46.30" y="526.66" font-size="7.4" text-anchor="end" stroke="#1e1e1e" stroke-width="0.15">250K</text>
<line x1="48.50" y1="524.00" x2="51.50" y2="524.00" stroke="#222" stroke-width="0.8"/>
<line x1="50.00" y1="526.20" x2="51.50" y2="526.20" stroke="#555" stroke-width="0.5"/>
<line x1="50.00" y1="528.40" x2="51.50" y2="528.40" stroke="#555" stroke-width="0.5"/>
<line x1="50.00" y1="530.60" x2="51.50" y2="530.60" stroke="#555" stroke-width="0.5"/>
<line x1="50.00" y1="532.80" x2="51.50" y2="532.80" stroke="#555" stroke-width="0.5"/>
<text x="46.30" y="537.66" font-size="7.4" text-anchor="end" stroke="#1e1e1e" stroke-width="0.15">200K</text>
<line x1="48.50" y1="535.00" x2="51.50" y2="535.00" stroke="#222" stroke-width="0.8"/>
<line x1="50.00" y1="537.20" x2="51.50" y2="537.20" stroke="#555" stroke-width="0.5"/>
<line x1="50.00" y1="539.40" x2="51.50" y2="539.40" stroke="#555" stroke-width="0.5"/>
<line x1="50.00" y1="541.60" x2="51.50" y2="541.60" stroke="#555" stroke-width="0.5"/>
<line x1="50.00" y1="543.80" x2="51.50" y2="543.80" stroke="#555" stroke-width="0.5"/>
<text x="46.30" y="548.66" font-size="7.4" text-anchor="end" stroke="#1e1e1e" stroke-width="0.15">150K</text>
<line x1="48.50" y1="546.00" x2="51.50" y2="546.00" stroke="#222" stroke-width="0.8"/>
<line x1="50.00" y1="548.20" x2="51.50" y2="548.20" stroke="#555" stroke-width="0.5"/>
<line x1="50.00" y1="550.40" x2="51.50" y2="550.40" stroke="#555" stroke-width="0.5"/>
<line x1="50.00" y1="552.60" x2="51.50" y2="552.60" stroke="#555" stroke-width="0.5"/>
<line x1="50.00" y1="554.80" x2="51.50" y2="554.80" stroke="#555" stroke-width="0.5"/>
<text x="46.30" y="559.66" font-size="7.4" text-anchor="end" stroke="#1e1e1e" stroke-width="0.15">100K</text>
<line x1="48.50" y1="557.00" x2="51.50" y2="557.00" stroke="#222" stroke-width="0.8"/>
<line x1="50.00" y1="559.20" x2="51.50" y2="559.20" stroke="#555" stroke-width="0.5"/>
<line x1="50.00" y1="561.40" x2="51.50" y2="561.40" stroke="#555" stroke-width="0.5"/>
<line x1="50.00" y1="563.60" x2="51.50" y2="563.60" stroke="#555" stroke-width="0.5"/>
<line x1="50.00" y1="565.80" x2="51.50" y2="565.80" stroke="#555" stroke-width="0.5"/>
<text x="46.30" y="570.66" font-size="7.4" text-anchor="end" stroke="#1e1e1e" stroke-width="0.15">50K</text>
<line x1="48.50" y1="568.00" x2="51.50" y2="568.00" stroke="#222" stroke-width="0.8"/>
<line x1="50.00" y1="570.20" x2="51.50" y2="570.20" stroke="#555" stroke-width="0.5"/>
<line x1="50.00" y1="572.40" x2="51.50" y2="572.40" stroke="#555" stroke-width="0.5"/>
<line x1="50.00" y1="574.60" x2="51.50" y2="574.60" stroke="#555" stroke-width="0.5"/>
<line x1="50.00" y1="576.80" x2="51.50" y2="576.80" stroke="#555" stroke-width="0.5"/>
<text x="46.30" y="581.66" font-size="7.4" text-anchor="end" stroke="#1e1e1e" stroke-width="0.15">0</text>
<line x1="48.50" y1="579.00" x2="51.50" y2="579.00" stroke="#222" stroke-width="0.8"/>
<line x1="57.00" y1="579.30" x2="57.00" y2="581.90" stroke="#222" stroke-width="0.8"/>
<line x1="65.90" y1="579.30" x2="65.90" y2="581.90" stroke="#222" stroke-width="0.8"/>
<line x1="75.30" y1="579.30" x2="75.30" y2="581.90" stroke="#222" stroke-width="0.8"/>
<line x1="91.20" y1="579.30" x2="91.20" y2="581.90" stroke="#222" stroke-width="0.8"/>
<line x1="104.40" y1="579.30" x2="104.40" y2="581.90" stroke="#222" stroke-width="0.8"/>
<text x="62.30" y="591.56" font-size="7.4" text-anchor="end" textLength="13.2" lengthAdjust="spacingAndGlyphs" stroke="#1e1e1e" stroke-width="0.15">–10<tspan dy="-3.26" font-size="5.48">3</tspan></text>
<text x="65.20" y="591.56" font-size="7.4" text-anchor="middle" stroke="#1e1e1e" stroke-width="0.15">0</text>
<text x="74.50" y="591.56" font-size="7.4" text-anchor="middle" textLength="11.6" lengthAdjust="spacingAndGlyphs" stroke="#1e1e1e" stroke-width="0.15">10<tspan dy="-3.26" font-size="5.48">3</tspan></text>
<text x="91.10" y="591.56" font-size="7.4" text-anchor="middle" textLength="10.4" lengthAdjust="spacingAndGlyphs" stroke="#1e1e1e" stroke-width="0.15">10<tspan dy="-3.26" font-size="5.48">4</tspan></text>
<text x="105.10" y="591.56" font-size="7.4" text-anchor="middle" textLength="10.6" lengthAdjust="spacingAndGlyphs" stroke="#1e1e1e" stroke-width="0.15">10<tspan dy="-3.26" font-size="5.48">5</tspan></text>
<line x1="52.50" y1="579.30" x2="52.50" y2="580.60" stroke="#555" stroke-width="0.5"/>
<line x1="54.43" y1="579.30" x2="54.43" y2="580.60" stroke="#555" stroke-width="0.5"/>
<line x1="56.36" y1="579.30" x2="56.36" y2="580.60" stroke="#555" stroke-width="0.5"/>
<line x1="58.29" y1="579.30" x2="58.29" y2="580.60" stroke="#555" stroke-width="0.5"/>
<line x1="60.21" y1="579.30" x2="60.21" y2="580.60" stroke="#555" stroke-width="0.5"/>
<line x1="62.14" y1="579.30" x2="62.14" y2="580.60" stroke="#555" stroke-width="0.5"/>
<line x1="64.07" y1="579.30" x2="64.07" y2="580.60" stroke="#555" stroke-width="0.5"/>
<line x1="66.00" y1="579.30" x2="66.00" y2="580.60" stroke="#555" stroke-width="0.5"/>
<line x1="67.93" y1="579.30" x2="67.93" y2="580.60" stroke="#555" stroke-width="0.5"/>
<line x1="69.86" y1="579.30" x2="69.86" y2="580.60" stroke="#555" stroke-width="0.5"/>
<line x1="71.79" y1="579.30" x2="71.79" y2="580.60" stroke="#555" stroke-width="0.5"/>
<line x1="73.71" y1="579.30" x2="73.71" y2="580.60" stroke="#555" stroke-width="0.5"/>
<line x1="75.64" y1="579.30" x2="75.64" y2="580.60" stroke="#555" stroke-width="0.5"/>
<line x1="77.57" y1="579.30" x2="77.57" y2="580.60" stroke="#555" stroke-width="0.5"/>
<line x1="79.50" y1="579.30" x2="79.50" y2="580.60" stroke="#555" stroke-width="0.5"/>
<line x1="82.30" y1="579.30" x2="82.30" y2="580.60" stroke="#555" stroke-width="0.5"/>
<line x1="85.10" y1="579.30" x2="85.10" y2="580.60" stroke="#555" stroke-width="0.5"/>
<line x1="87.90" y1="579.30" x2="87.90" y2="580.60" stroke="#555" stroke-width="0.5"/>
<line x1="90.70" y1="579.30" x2="90.70" y2="580.60" stroke="#555" stroke-width="0.5"/>
<line x1="93.50" y1="579.30" x2="93.50" y2="580.60" stroke="#555" stroke-width="0.5"/>
<line x1="96.30" y1="579.30" x2="96.30" y2="580.60" stroke="#555" stroke-width="0.5"/>
<line x1="99.10" y1="579.30" x2="99.10" y2="580.60" stroke="#555" stroke-width="0.5"/>
<line x1="101.90" y1="579.30" x2="101.90" y2="580.60" stroke="#555" stroke-width="0.5"/>
<line x1="104.70" y1="579.30" x2="104.70" y2="580.60" stroke="#555" stroke-width="0.5"/>
<text x="78.30" y="603.88" font-size="10.5" text-anchor="middle" textLength="82" lengthAdjust="spacingAndGlyphs" stroke="#1e1e1e" stroke-width="0.15">Comp-BV710-A :: FcgRIV</text>
<text x="21.00" y="554.53" font-size="9.8" text-anchor="middle" textLength="18.5" lengthAdjust="spacingAndGlyphs" transform="rotate(-90 21.00 551.00)" stroke="#1e1e1e" stroke-width="0.15">FSC-H</text>
<path d="M165.70 551.83 C165.70 545.16 170.97 539.10 175.19 539.10 C184.69 539.10 186.80 542.74 186.80 551.83 C186.80 560.92 181.53 569.40 172.03 569.40 C167.81 569.40 165.70 563.34 165.70 551.83 Z" fill="url(#lg2)" stroke="#cdcdcd" stroke-width="0.6"/>
<path d="M167.39 552.66 C167.39 547.46 171.45 542.74 174.70 542.74 C182.01 542.74 183.64 545.57 183.64 552.66 C183.64 559.75 179.57 566.37 172.26 566.37 C169.01 566.37 167.39 561.64 167.39 552.66 Z" fill="none" stroke="#d2d2d2" stroke-width="0.5"/>
<path d="M168.23 553.67 C168.23 550.01 171.03 546.67 173.26 546.67 C178.30 546.67 179.41 548.67 179.41 553.67 C179.41 558.67 176.62 563.34 171.59 563.34 C169.35 563.34 168.23 560.01 168.23 553.67 Z" fill="none" stroke="#c8c8c8" stroke-width="0.5"/>
<ellipse cx="168.40" cy="556.00" rx="2.30" ry="13.00" fill="url(#g6)"/>
<ellipse cx="171.30" cy="556.00" rx="0.90" ry="2.20" fill="#f6f6f6"/>
<line x1="174.20" y1="534.60" x2="174.20" y2="572.00" stroke="#6a6a6a" stroke-width="0.9"/>
<line x1="203.50" y1="534.60" x2="203.50" y2="572.00" stroke="#6a6a6a" stroke-width="0.9"/>
<line x1="174.20" y1="572.00" x2="203.50" y2="572.00" stroke="#6a6a6a" stroke-width="0.9"/>
<line x1="174.20" y1="534.60" x2="180.05" y2="534.60" stroke="#6a6a6a" stroke-width="0.9"/>
<line x1="197.65" y1="534.60" x2="203.50" y2="534.60" stroke="#6a6a6a" stroke-width="0.9"/>
<text x="188.85" y="528.62" font-size="7.0" text-anchor="middle" fill="#2a2a2a" textLength="24" lengthAdjust="spacingAndGlyphs" stroke="#2a2a2a" stroke-width="0.15">FCGR4+</text>
<text x="188.85" y="537.76" font-size="7.4" text-anchor="middle" fill="#2a2a2a" stroke="#2a2a2a" stroke-width="0.15">52.2</text>
<rect x="157.30" y="521.50" width="60.30" height="57.80" fill="none" stroke="#1e1e1e" stroke-width="1.1"/>
<text x="185.80" y="517.99" font-size="8.3" text-anchor="middle" font-weight="bold" fill="#000" textLength="31.2" lengthAdjust="spacingAndGlyphs" stroke="#000" stroke-width="0.05">TAK-981</text>
<text x="152.10" y="526.66" font-size="7.4" text-anchor="end" stroke="#1e1e1e" stroke-width="0.15">250K</text>
<line x1="154.30" y1="524.00" x2="157.30" y2="524.00" stroke="#222" stroke-width="0.8"/>
<line x1="155.80" y1="526.20" x2="157.30" y2="526.20" stroke="#555" stroke-width="0.5"/>
<line x1="155.80" y1="528.40" x2="157.30" y2="528.40" stroke="#555" stroke-width="0.5"/>
<line x1="155.80" y1="530.60" x2="157.30" y2="530.60" stroke="#555" stroke-width="0.5"/>
<line x1="155.80" y1="532.80" x2="157.30" y2="532.80" stroke="#555" stroke-width="0.5"/>
<text x="152.10" y="537.66" font-size="7.4" text-anchor="end" stroke="#1e1e1e" stroke-width="0.15">200K</text>
<line x1="154.30" y1="535.00" x2="157.30" y2="535.00" stroke="#222" stroke-width="0.8"/>
<line x1="155.80" y1="537.20" x2="157.30" y2="537.20" stroke="#555" stroke-width="0.5"/>
<line x1="155.80" y1="539.40" x2="157.30" y2="539.40" stroke="#555" stroke-width="0.5"/>
<line x1="155.80" y1="541.60" x2="157.30" y2="541.60" stroke="#555" stroke-width="0.5"/>
<line x1="155.80" y1="543.80" x2="157.30" y2="543.80" stroke="#555" stroke-width="0.5"/>
<text x="152.10" y="548.66" font-size="7.4" text-anchor="end" stroke="#1e1e1e" stroke-width="0.15">150K</text>
<line x1="154.30" y1="546.00" x2="157.30" y2="546.00" stroke="#222" stroke-width="0.8"/>
<line x1="155.80" y1="548.20" x2="157.30" y2="548.20" stroke="#555" stroke-width="0.5"/>
<line x1="155.80" y1="550.40" x2="157.30" y2="550.40" stroke="#555" stroke-width="0.5"/>
<line x1="155.80" y1="552.60" x2="157.30" y2="552.60" stroke="#555" stroke-width="0.5"/>
<line x1="155.80" y1="554.80" x2="157.30" y2="554.80" stroke="#555" stroke-width="0.5"/>
<text x="152.10" y="559.66" font-size="7.4" text-anchor="end" stroke="#1e1e1e" stroke-width="0.15">100K</text>
<line x1="154.30" y1="557.00" x2="157.30" y2="557.00" stroke="#222" stroke-width="0.8"/>
<line x1="155.80" y1="559.20" x2="157.30" y2="559.20" stroke="#555" stroke-width="0.5"/>
<line x1="155.80" y1="561.40" x2="157.30" y2="561.40" stroke="#555" stroke-width="0.5"/>
<line x1="155.80" y1="563.60" x2="157.30" y2="563.60" stroke="#555" stroke-width="0.5"/>
<line x1="155.80" y1="565.80" x2="157.30" y2="565.80" stroke="#555" stroke-width="0.5"/>
<text x="152.10" y="570.66" font-size="7.4" text-anchor="end" stroke="#1e1e1e" stroke-width="0.15">50K</text>
<line x1="154.30" y1="568.00" x2="157.30" y2="568.00" stroke="#222" stroke-width="0.8"/>
<line x1="155.80" y1="570.20" x2="157.30" y2="570.20" stroke="#555" stroke-width="0.5"/>
<line x1="155.80" y1="572.40" x2="157.30" y2="572.40" stroke="#555" stroke-width="0.5"/>
<line x1="155.80" y1="574.60" x2="157.30" y2="574.60" stroke="#555" stroke-width="0.5"/>
<line x1="155.80" y1="576.80" x2="157.30" y2="576.80" stroke="#555" stroke-width="0.5"/>
<text x="152.10" y="581.66" font-size="7.4" text-anchor="end" stroke="#1e1e1e" stroke-width="0.15">0</text>
<line x1="154.30" y1="579.00" x2="157.30" y2="579.00" stroke="#222" stroke-width="0.8"/>
<line x1="162.80" y1="579.30" x2="162.80" y2="581.90" stroke="#222" stroke-width="0.8"/>
<line x1="171.70" y1="579.30" x2="171.70" y2="581.90" stroke="#222" stroke-width="0.8"/>
<line x1="181.10" y1="579.30" x2="181.10" y2="581.90" stroke="#222" stroke-width="0.8"/>
<line x1="197.00" y1="579.30" x2="197.00" y2="581.90" stroke="#222" stroke-width="0.8"/>
<line x1="210.20" y1="579.30" x2="210.20" y2="581.90" stroke="#222" stroke-width="0.8"/>
<text x="168.10" y="591.56" font-size="7.4" text-anchor="end" textLength="13.2" lengthAdjust="spacingAndGlyphs" stroke="#1e1e1e" stroke-width="0.15">–10<tspan dy="-3.26" font-size="5.48">3</tspan></text>
<text x="171.00" y="591.56" font-size="7.4" text-anchor="middle" stroke="#1e1e1e" stroke-width="0.15">0</text>
<text x="180.30" y="591.56" font-size="7.4" text-anchor="middle" textLength="11.6" lengthAdjust="spacingAndGlyphs" stroke="#1e1e1e" stroke-width="0.15">10<tspan dy="-3.26" font-size="5.48">3</tspan></text>
<text x="196.90" y="591.56" font-size="7.4" text-anchor="middle" textLength="10.4" lengthAdjust="spacingAndGlyphs" stroke="#1e1e1e" stroke-width="0.15">10<tspan dy="-3.26" font-size="5.48">4</tspan></text>
<text x="210.90" y="591.56" font-size="7.4" text-anchor="middle" textLength="10.6" lengthAdjust="spacingAndGlyphs" stroke="#1e1e1e" stroke-width="0.15">10<tspan dy="-3.26" font-size="5.48">5</tspan></text>
<line x1="158.30" y1="579.30" x2="158.30" y2="580.60" stroke="#555" stroke-width="0.5"/>
<line x1="160.23" y1="579.30" x2="160.23" y2="580.60" stroke="#555" stroke-width="0.5"/>
<line x1="162.16" y1="579.30" x2="162.16" y2="580.60" stroke="#555" stroke-width="0.5"/>
<line x1="164.09" y1="579.30" x2="164.09" y2="580.60" stroke="#555" stroke-width="0.5"/>
<line x1="166.01" y1="579.30" x2="166.01" y2="580.60" stroke="#555" stroke-width="0.5"/>
<line x1="167.94" y1="579.30" x2="167.94" y2="580.60" stroke="#555" stroke-width="0.5"/>
<line x1="169.87" y1="579.30" x2="169.87" y2="580.60" stroke="#555" stroke-width="0.5"/>
<line x1="171.80" y1="579.30" x2="171.80" y2="580.60" stroke="#555" stroke-width="0.5"/>
<line x1="173.73" y1="579.30" x2="173.73" y2="580.60" stroke="#555" stroke-width="0.5"/>
<line x1="175.66" y1="579.30" x2="175.66" y2="580.60" stroke="#555" stroke-width="0.5"/>
<line x1="177.59" y1="579.30" x2="177.59" y2="580.60" stroke="#555" stroke-width="0.5"/>
<line x1="179.51" y1="579.30" x2="179.51" y2="580.60" stroke="#555" stroke-width="0.5"/>
<line x1="181.44" y1="579.30" x2="181.44" y2="580.60" stroke="#555" stroke-width="0.5"/>
<line x1="183.37" y1="579.30" x2="183.37" y2="580.60" stroke="#555" stroke-width="0.5"/>
<line x1="185.30" y1="579.30" x2="185.30" y2="580.60" stroke="#555" stroke-width="0.5"/>
<line x1="188.10" y1="579.30" x2="188.10" y2="580.60" stroke="#555" stroke-width="0.5"/>
<line x1="190.90" y1="579.30" x2="190.90" y2="580.60" stroke="#555" stroke-width="0.5"/>
<line x1="193.70" y1="579.30" x2="193.70" y2="580.60" stroke="#555" stroke-width="0.5"/>
<line x1="196.50" y1="579.30" x2="196.50" y2="580.60" stroke="#555" stroke-width="0.5"/>
<line x1="199.30" y1="579.30" x2="199.30" y2="580.60" stroke="#555" stroke-width="0.5"/>
<line x1="202.10" y1="579.30" x2="202.10" y2="580.60" stroke="#555" stroke-width="0.5"/>
<line x1="204.90" y1="579.30" x2="204.90" y2="580.60" stroke="#555" stroke-width="0.5"/>
<line x1="207.70" y1="579.30" x2="207.70" y2="580.60" stroke="#555" stroke-width="0.5"/>
<line x1="210.50" y1="579.30" x2="210.50" y2="580.60" stroke="#555" stroke-width="0.5"/>
<text x="185.50" y="603.88" font-size="10.5" text-anchor="middle" textLength="82" lengthAdjust="spacingAndGlyphs" stroke="#1e1e1e" stroke-width="0.15">Comp-BV710-A :: FcgRIV</text>
<text x="126.80" y="554.53" font-size="9.8" text-anchor="middle" textLength="18.5" lengthAdjust="spacingAndGlyphs" transform="rotate(-90 126.80 551.00)" stroke="#1e1e1e" stroke-width="0.15">FSC-H</text>
<path d="M62.20 657.70 C62.20 648.96 64.38 643.50 67.28 643.50 C73.80 643.50 76.70 649.51 76.70 657.70 C76.70 665.89 73.80 670.80 67.28 670.80 C64.38 670.80 62.20 665.34 62.20 657.70 Z" fill="url(#lg3)" stroke="#cdcdcd" stroke-width="0.6"/>
<path d="M63.36 657.85 C63.36 651.03 65.03 646.78 67.27 646.78 C72.29 646.78 74.53 651.46 74.53 657.85 C74.53 664.24 72.29 668.07 67.27 668.07 C65.03 668.07 63.36 663.81 63.36 657.85 Z" fill="none" stroke="#d2d2d2" stroke-width="0.5"/>
<path d="M63.94 658.13 C63.94 653.33 65.09 650.33 66.63 650.33 C70.09 650.33 71.62 653.63 71.62 658.13 C71.62 662.64 70.09 665.34 66.63 665.34 C65.09 665.34 63.94 662.34 63.94 658.13 Z" fill="none" stroke="#c8c8c8" stroke-width="0.5"/>
<ellipse cx="64.60" cy="658.50" rx="2.90" ry="12.50" fill="url(#g7)"/>
<ellipse cx="66.30" cy="659.30" rx="0.70" ry="2.40" fill="#f6f6f6"/>
<line x1="68.40" y1="635.80" x2="68.40" y2="673.30" stroke="#6a6a6a" stroke-width="0.9"/>
<line x1="98.50" y1="635.80" x2="98.50" y2="673.30" stroke="#6a6a6a" stroke-width="0.9"/>
<line x1="68.40" y1="673.30" x2="98.50" y2="673.30" stroke="#6a6a6a" stroke-width="0.9"/>
<line x1="68.40" y1="635.80" x2="74.65" y2="635.80" stroke="#6a6a6a" stroke-width="0.9"/>
<line x1="92.25" y1="635.80" x2="98.50" y2="635.80" stroke="#6a6a6a" stroke-width="0.9"/>
<text x="83.45" y="629.52" font-size="7.0" text-anchor="middle" fill="#2a2a2a" textLength="24" lengthAdjust="spacingAndGlyphs" stroke="#2a2a2a" stroke-width="0.15">FCGR4+</text>
<text x="83.45" y="638.66" font-size="7.4" text-anchor="middle" fill="#2a2a2a" stroke="#2a2a2a" stroke-width="0.15">32.1</text>
<rect x="51.50" y="622.40" width="58.50" height="57.80" fill="none" stroke="#1e1e1e" stroke-width="1.1"/>
<text x="80.30" y="619.29" font-size="8.3" text-anchor="middle" font-weight="bold" fill="#000" textLength="36.5" lengthAdjust="spacingAndGlyphs" stroke="#000" stroke-width="0.05">Rituximab</text>
<text x="46.30" y="627.56" font-size="7.4" text-anchor="end" stroke="#1e1e1e" stroke-width="0.15">250K</text>
<line x1="48.50" y1="624.90" x2="51.50" y2="624.90" stroke="#222" stroke-width="0.8"/>
<line x1="50.00" y1="627.10" x2="51.50" y2="627.10" stroke="#555" stroke-width="0.5"/>
<line x1="50.00" y1="629.30" x2="51.50" y2="629.30" stroke="#555" stroke-width="0.5"/>
<line x1="50.00" y1="631.50" x2="51.50" y2="631.50" stroke="#555" stroke-width="0.5"/>
<line x1="50.00" y1="633.70" x2="51.50" y2="633.70" stroke="#555" stroke-width="0.5"/>
<text x="46.30" y="638.56" font-size="7.4" text-anchor="end" stroke="#1e1e1e" stroke-width="0.15">200K</text>
<line x1="48.50" y1="635.90" x2="51.50" y2="635.90" stroke="#222" stroke-width="0.8"/>
<line x1="50.00" y1="638.10" x2="51.50" y2="638.10" stroke="#555" stroke-width="0.5"/>
<line x1="50.00" y1="640.30" x2="51.50" y2="640.30" stroke="#555" stroke-width="0.5"/>
<line x1="50.00" y1="642.50" x2="51.50" y2="642.50" stroke="#555" stroke-width="0.5"/>
<line x1="50.00" y1="644.70" x2="51.50" y2="644.70" stroke="#555" stroke-width="0.5"/>
<text x="46.30" y="649.56" font-size="7.4" text-anchor="end" stroke="#1e1e1e" stroke-width="0.15">150K</text>
<line x1="48.50" y1="646.90" x2="51.50" y2="646.90" stroke="#222" stroke-width="0.8"/>
<line x1="50.00" y1="649.10" x2="51.50" y2="649.10" stroke="#555" stroke-width="0.5"/>
<line x1="50.00" y1="651.30" x2="51.50" y2="651.30" stroke="#555" stroke-width="0.5"/>
<line x1="50.00" y1="653.50" x2="51.50" y2="653.50" stroke="#555" stroke-width="0.5"/>
<line x1="50.00" y1="655.70" x2="51.50" y2="655.70" stroke="#555" stroke-width="0.5"/>
<text x="46.30" y="660.56" font-size="7.4" text-anchor="end" stroke="#1e1e1e" stroke-width="0.15">100K</text>
<line x1="48.50" y1="657.90" x2="51.50" y2="657.90" stroke="#222" stroke-width="0.8"/>
<line x1="50.00" y1="660.10" x2="51.50" y2="660.10" stroke="#555" stroke-width="0.5"/>
<line x1="50.00" y1="662.30" x2="51.50" y2="662.30" stroke="#555" stroke-width="0.5"/>
<line x1="50.00" y1="664.50" x2="51.50" y2="664.50" stroke="#555" stroke-width="0.5"/>
<line x1="50.00" y1="666.70" x2="51.50" y2="666.70" stroke="#555" stroke-width="0.5"/>
<text x="46.30" y="671.56" font-size="7.4" text-anchor="end" stroke="#1e1e1e" stroke-width="0.15">50K</text>
<line x1="48.50" y1="668.90" x2="51.50" y2="668.90" stroke="#222" stroke-width="0.8"/>
<line x1="50.00" y1="671.10" x2="51.50" y2="671.10" stroke="#555" stroke-width="0.5"/>
<line x1="50.00" y1="673.30" x2="51.50" y2="673.30" stroke="#555" stroke-width="0.5"/>
<line x1="50.00" y1="675.50" x2="51.50" y2="675.50" stroke="#555" stroke-width="0.5"/>
<line x1="50.00" y1="677.70" x2="51.50" y2="677.70" stroke="#555" stroke-width="0.5"/>
<text x="46.30" y="682.56" font-size="7.4" text-anchor="end" stroke="#1e1e1e" stroke-width="0.15">0</text>
<line x1="48.50" y1="679.90" x2="51.50" y2="679.90" stroke="#222" stroke-width="0.8"/>
<line x1="57.00" y1="680.20" x2="57.00" y2="682.80" stroke="#222" stroke-width="0.8"/>
<line x1="65.90" y1="680.20" x2="65.90" y2="682.80" stroke="#222" stroke-width="0.8"/>
<line x1="75.30" y1="680.20" x2="75.30" y2="682.80" stroke="#222" stroke-width="0.8"/>
<line x1="91.20" y1="680.20" x2="91.20" y2="682.80" stroke="#222" stroke-width="0.8"/>
<line x1="104.40" y1="680.20" x2="104.40" y2="682.80" stroke="#222" stroke-width="0.8"/>
<text x="62.30" y="692.46" font-size="7.4" text-anchor="end" textLength="13.2" lengthAdjust="spacingAndGlyphs" stroke="#1e1e1e" stroke-width="0.15">–10<tspan dy="-3.26" font-size="5.48">3</tspan></text>
<text x="65.20" y="692.46" font-size="7.4" text-anchor="middle" stroke="#1e1e1e" stroke-width="0.15">0</text>
<text x="74.50" y="692.46" font-size="7.4" text-anchor="middle" textLength="11.6" lengthAdjust="spacingAndGlyphs" stroke="#1e1e1e" stroke-width="0.15">10<tspan dy="-3.26" font-size="5.48">3</tspan></text>
<text x="91.10" y="692.46" font-size="7.4" text-anchor="middle" textLength="10.4" lengthAdjust="spacingAndGlyphs" stroke="#1e1e1e" stroke-width="0.15">10<tspan dy="-3.26" font-size="5.48">4</tspan></text>
<text x="105.10" y="692.46" font-size="7.4" text-anchor="middle" textLength="10.6" lengthAdjust="spacingAndGlyphs" stroke="#1e1e1e" stroke-width="0.15">10<tspan dy="-3.26" font-size="5.48">5</tspan></text>
<line x1="52.50" y1="680.20" x2="52.50" y2="681.50" stroke="#555" stroke-width="0.5"/>
<line x1="54.43" y1="680.20" x2="54.43" y2="681.50" stroke="#555" stroke-width="0.5"/>
<line x1="56.36" y1="680.20" x2="56.36" y2="681.50" stroke="#555" stroke-width="0.5"/>
<line x1="58.29" y1="680.20" x2="58.29" y2="681.50" stroke="#555" stroke-width="0.5"/>
<line x1="60.21" y1="680.20" x2="60.21" y2="681.50" stroke="#555" stroke-width="0.5"/>
<line x1="62.14" y1="680.20" x2="62.14" y2="681.50" stroke="#555" stroke-width="0.5"/>
<line x1="64.07" y1="680.20" x2="64.07" y2="681.50" stroke="#555" stroke-width="0.5"/>
<line x1="66.00" y1="680.20" x2="66.00" y2="681.50" stroke="#555" stroke-width="0.5"/>
<line x1="67.93" y1="680.20" x2="67.93" y2="681.50" stroke="#555" stroke-width="0.5"/>
<line x1="69.86" y1="680.20" x2="69.86" y2="681.50" stroke="#555" stroke-width="0.5"/>
<line x1="71.79" y1="680.20" x2="71.79" y2="681.50" stroke="#555" stroke-width="0.5"/>
<line x1="73.71" y1="680.20" x2="73.71" y2="681.50" stroke="#555" stroke-width="0.5"/>
<line x1="75.64" y1="680.20" x2="75.64" y2="681.50" stroke="#555" stroke-width="0.5"/>
<line x1="77.57" y1="680.20" x2="77.57" y2="681.50" stroke="#555" stroke-width="0.5"/>
<line x1="79.50" y1="680.20" x2="79.50" y2="681.50" stroke="#555" stroke-width="0.5"/>
<line x1="82.30" y1="680.20" x2="82.30" y2="681.50" stroke="#555" stroke-width="0.5"/>
<line x1="85.10" y1="680.20" x2="85.10" y2="681.50" stroke="#555" stroke-width="0.5"/>
<line x1="87.90" y1="680.20" x2="87.90" y2="681.50" stroke="#555" stroke-width="0.5"/>
<line x1="90.70" y1="680.20" x2="90.70" y2="681.50" stroke="#555" stroke-width="0.5"/>
<line x1="93.50" y1="680.20" x2="93.50" y2="681.50" stroke="#555" stroke-width="0.5"/>
<line x1="96.30" y1="680.20" x2="96.30" y2="681.50" stroke="#555" stroke-width="0.5"/>
<line x1="99.10" y1="680.20" x2="99.10" y2="681.50" stroke="#555" stroke-width="0.5"/>
<line x1="101.90" y1="680.20" x2="101.90" y2="681.50" stroke="#555" stroke-width="0.5"/>
<line x1="104.70" y1="680.20" x2="104.70" y2="681.50" stroke="#555" stroke-width="0.5"/>
<text x="78.30" y="704.78" font-size="10.5" text-anchor="middle" textLength="82" lengthAdjust="spacingAndGlyphs" stroke="#1e1e1e" stroke-width="0.15">Comp-BV710-A :: FcgRIV</text>
<text x="21.00" y="655.43" font-size="9.8" text-anchor="middle" textLength="18.5" lengthAdjust="spacingAndGlyphs" transform="rotate(-90 21.00 651.90)" stroke="#1e1e1e" stroke-width="0.15">FSC-H</text>
<path d="M165.70 652.01 C165.70 643.84 171.27 637.30 175.73 637.30 C185.77 637.30 188.00 642.20 188.00 652.01 C188.00 661.83 182.42 670.00 172.39 670.00 C167.93 670.00 165.70 663.46 165.70 652.01 Z" fill="url(#lg4)" stroke="#cdcdcd" stroke-width="0.6"/>
<path d="M167.48 652.70 C167.48 646.33 171.78 641.22 175.21 641.22 C182.94 641.22 184.66 645.05 184.66 652.70 C184.66 660.35 180.36 666.73 172.64 666.73 C169.20 666.73 167.48 661.63 167.48 652.70 Z" fill="none" stroke="#d2d2d2" stroke-width="0.5"/>
<path d="M168.38 653.57 C168.38 649.07 171.33 645.47 173.69 645.47 C179.01 645.47 180.19 648.17 180.19 653.57 C180.19 658.96 177.24 663.46 171.92 663.46 C169.56 663.46 168.38 659.86 168.38 653.57 Z" fill="none" stroke="#c8c8c8" stroke-width="0.5"/>
<ellipse cx="168.00" cy="654.00" rx="2.20" ry="13.00" fill="url(#g8)"/>
<ellipse cx="170.80" cy="654.00" rx="0.80" ry="2.00" fill="#f6f6f6"/>
<line x1="174.00" y1="635.70" x2="174.00" y2="673.40" stroke="#6a6a6a" stroke-width="0.9"/>
<line x1="203.50" y1="635.70" x2="203.50" y2="673.40" stroke="#6a6a6a" stroke-width="0.9"/>
<line x1="174.00" y1="673.40" x2="203.50" y2="673.40" stroke="#6a6a6a" stroke-width="0.9"/>
<line x1="174.00" y1="635.70" x2="179.95" y2="635.70" stroke="#6a6a6a" stroke-width="0.9"/>
<line x1="197.55" y1="635.70" x2="203.50" y2="635.70" stroke="#6a6a6a" stroke-width="0.9"/>
<text x="188.75" y="629.72" font-size="7.0" text-anchor="middle" fill="#2a2a2a" textLength="24" lengthAdjust="spacingAndGlyphs" stroke="#2a2a2a" stroke-width="0.15">FCGR4+</text>
<text x="188.75" y="638.86" font-size="7.4" text-anchor="middle" fill="#2a2a2a" stroke="#2a2a2a" stroke-width="0.15">51.5</text>
<rect x="157.30" y="622.60" width="60.30" height="57.80" fill="none" stroke="#1e1e1e" stroke-width="1.1"/>
<text x="185.80" y="618.59" font-size="8.3" text-anchor="middle" font-weight="bold" fill="#000" textLength="74.4" lengthAdjust="spacingAndGlyphs" stroke="#000" stroke-width="0.05">TAK-981/Rituximab</text>
<text x="152.10" y="627.76" font-size="7.4" text-anchor="end" stroke="#1e1e1e" stroke-width="0.15">250K</text>
<line x1="154.30" y1="625.10" x2="157.30" y2="625.10" stroke="#222" stroke-width="0.8"/>
<line x1="155.80" y1="627.30" x2="157.30" y2="627.30" stroke="#555" stroke-width="0.5"/>
<line x1="155.80" y1="629.50" x2="157.30" y2="629.50" stroke="#555" stroke-width="0.5"/>
<line x1="155.80" y1="631.70" x2="157.30" y2="631.70" stroke="#555" stroke-width="0.5"/>
<line x1="155.80" y1="633.90" x2="157.30" y2="633.90" stroke="#555" stroke-width="0.5"/>
<text x="152.10" y="638.76" font-size="7.4" text-anchor="end" stroke="#1e1e1e" stroke-width="0.15">200K</text>
<line x1="154.30" y1="636.10" x2="157.30" y2="636.10" stroke="#222" stroke-width="0.8"/>
<line x1="155.80" y1="638.30" x2="157.30" y2="638.30" stroke="#555" stroke-width="0.5"/>
<line x1="155.80" y1="640.50" x2="157.30" y2="640.50" stroke="#555" stroke-width="0.5"/>
<line x1="155.80" y1="642.70" x2="157.30" y2="642.70" stroke="#555" stroke-width="0.5"/>
<line x1="155.80" y1="644.90" x2="157.30" y2="644.90" stroke="#555" stroke-width="0.5"/>
<text x="152.10" y="649.76" font-size="7.4" text-anchor="end" stroke="#1e1e1e" stroke-width="0.15">150K</text>
<line x1="154.30" y1="647.10" x2="157.30" y2="647.10" stroke="#222" stroke-width="0.8"/>
<line x1="155.80" y1="649.30" x2="157.30" y2="649.30" stroke="#555" stroke-width="0.5"/>
<line x1="155.80" y1="651.50" x2="157.30" y2="651.50" stroke="#555" stroke-width="0.5"/>
<line x1="155.80" y1="653.70" x2="157.30" y2="653.70" stroke="#555" stroke-width="0.5"/>
<line x1="155.80" y1="655.90" x2="157.30" y2="655.90" stroke="#555" stroke-width="0.5"/>
<text x="152.10" y="660.76" font-size="7.4" text-anchor="end" stroke="#1e1e1e" stroke-width="0.15">100K</text>
<line x1="154.30" y1="658.10" x2="157.30" y2="658.10" stroke="#222" stroke-width="0.8"/>
<line x1="155.80" y1="660.30" x2="157.30" y2="660.30" stroke="#555" stroke-width="0.5"/>
<line x1="155.80" y1="662.50" x2="157.30" y2="662.50" stroke="#555" stroke-width="0.5"/>
<line x1="155.80" y1="664.70" x2="157.30" y2="664.70" stroke="#555" stroke-width="0.5"/>
<line x1="155.80" y1="666.90" x2="157.30" y2="666.90" stroke="#555" stroke-width="0.5"/>
<text x="152.10" y="671.76" font-size="7.4" text-anchor="end" stroke="#1e1e1e" stroke-width="0.15">50K</text>
<line x1="154.30" y1="669.10" x2="157.30" y2="669.10" stroke="#222" stroke-width="0.8"/>
<line x1="155.80" y1="671.30" x2="157.30" y2="671.30" stroke="#555" stroke-width="0.5"/>
<line x1="155.80" y1="673.50" x2="157.30" y2="673.50" stroke="#555" stroke-width="0.5"/>
<line x1="155.80" y1="675.70" x2="157.30" y2="675.70" stroke="#555" stroke-width="0.5"/>
<line x1="155.80" y1="677.90" x2="157.30" y2="677.90" stroke="#555" stroke-width="0.5"/>
<text x="152.10" y="682.76" font-size="7.4" text-anchor="end" stroke="#1e1e1e" stroke-width="0.15">0</text>
<line x1="154.30" y1="680.10" x2="157.30" y2="680.10" stroke="#222" stroke-width="0.8"/>
<line x1="162.80" y1="680.40" x2="162.80" y2="683.00" stroke="#222" stroke-width="0.8"/>
<line x1="171.70" y1="680.40" x2="171.70" y2="683.00" stroke="#222" stroke-width="0.8"/>
<line x1="181.10" y1="680.40" x2="181.10" y2="683.00" stroke="#222" stroke-width="0.8"/>
<line x1="197.00" y1="680.40" x2="197.00" y2="683.00" stroke="#222" stroke-width="0.8"/>
<line x1="210.20" y1="680.40" x2="210.20" y2="683.00" stroke="#222" stroke-width="0.8"/>
<text x="168.10" y="692.66" font-size="7.4" text-anchor="end" textLength="13.2" lengthAdjust="spacingAndGlyphs" stroke="#1e1e1e" stroke-width="0.15">–10<tspan dy="-3.26" font-size="5.48">3</tspan></text>
<text x="171.00" y="692.66" font-size="7.4" text-anchor="middle" stroke="#1e1e1e" stroke-width="0.15">0</text>
<text x="180.30" y="692.66" font-size="7.4" text-anchor="middle" textLength="11.6" lengthAdjust="spacingAndGlyphs" stroke="#1e1e1e" stroke-width="0.15">10<tspan dy="-3.26" font-size="5.48">3</tspan></text>
<text x="196.90" y="692.66" font-size="7.4" text-anchor="middle" textLength="10.4" lengthAdjust="spacingAndGlyphs" stroke="#1e1e1e" stroke-width="0.15">10<tspan dy="-3.26" font-size="5.48">4</tspan></text>
<text x="210.90" y="692.66" font-size="7.4" text-anchor="middle" textLength="10.6" lengthAdjust="spacingAndGlyphs" stroke="#1e1e1e" stroke-width="0.15">10<tspan dy="-3.26" font-size="5.48">5</tspan></text>
<line x1="158.30" y1="680.40" x2="158.30" y2="681.70" stroke="#555" stroke-width="0.5"/>
<line x1="160.23" y1="680.40" x2="160.23" y2="681.70" stroke="#555" stroke-width="0.5"/>
<line x1="162.16" y1="680.40" x2="162.16" y2="681.70" stroke="#555" stroke-width="0.5"/>
<line x1="164.09" y1="680.40" x2="164.09" y2="681.70" stroke="#555" stroke-width="0.5"/>
<line x1="166.01" y1="680.40" x2="166.01" y2="681.70" stroke="#555" stroke-width="0.5"/>
<line x1="167.94" y1="680.40" x2="167.94" y2="681.70" stroke="#555" stroke-width="0.5"/>
<line x1="169.87" y1="680.40" x2="169.87" y2="681.70" stroke="#555" stroke-width="0.5"/>
<line x1="171.80" y1="680.40" x2="171.80" y2="681.70" stroke="#555" stroke-width="0.5"/>
<line x1="173.73" y1="680.40" x2="173.73" y2="681.70" stroke="#555" stroke-width="0.5"/>
<line x1="175.66" y1="680.40" x2="175.66" y2="681.70" stroke="#555" stroke-width="0.5"/>
<line x1="177.59" y1="680.40" x2="177.59" y2="681.70" stroke="#555" stroke-width="0.5"/>
<line x1="179.51" y1="680.40" x2="179.51" y2="681.70" stroke="#555" stroke-width="0.5"/>
<line x1="181.44" y1="680.40" x2="181.44" y2="681.70" stroke="#555" stroke-width="0.5"/>
<line x1="183.37" y1="680.40" x2="183.37" y2="681.70" stroke="#555" stroke-width="0.5"/>
<line x1="185.30" y1="680.40" x2="185.30" y2="681.70" stroke="#555" stroke-width="0.5"/>
<line x1="188.10" y1="680.40" x2="188.10" y2="681.70" stroke="#555" stroke-width="0.5"/>
<line x1="190.90" y1="680.40" x2="190.90" y2="681.70" stroke="#555" stroke-width="0.5"/>
<line x1="193.70" y1="680.40" x2="193.70" y2="681.70" stroke="#555" stroke-width="0.5"/>
<line x1="196.50" y1="680.40" x2="196.50" y2="681.70" stroke="#555" stroke-width="0.5"/>
<line x1="199.30" y1="680.40" x2="199.30" y2="681.70" stroke="#555" stroke-width="0.5"/>
<line x1="202.10" y1="680.40" x2="202.10" y2="681.70" stroke="#555" stroke-width="0.5"/>
<line x1="204.90" y1="680.40" x2="204.90" y2="681.70" stroke="#555" stroke-width="0.5"/>
<line x1="207.70" y1="680.40" x2="207.70" y2="681.70" stroke="#555" stroke-width="0.5"/>
<line x1="210.50" y1="680.40" x2="210.50" y2="681.70" stroke="#555" stroke-width="0.5"/>
<text x="185.50" y="704.98" font-size="10.5" text-anchor="middle" textLength="82" lengthAdjust="spacingAndGlyphs" stroke="#1e1e1e" stroke-width="0.15">Comp-BV710-A :: FcgRIV</text>
<text x="126.80" y="655.63" font-size="9.8" text-anchor="middle" textLength="18.5" lengthAdjust="spacingAndGlyphs" transform="rotate(-90 126.80 652.10)" stroke="#1e1e1e" stroke-width="0.15">FSC-H</text>
</svg>
</body></html>
